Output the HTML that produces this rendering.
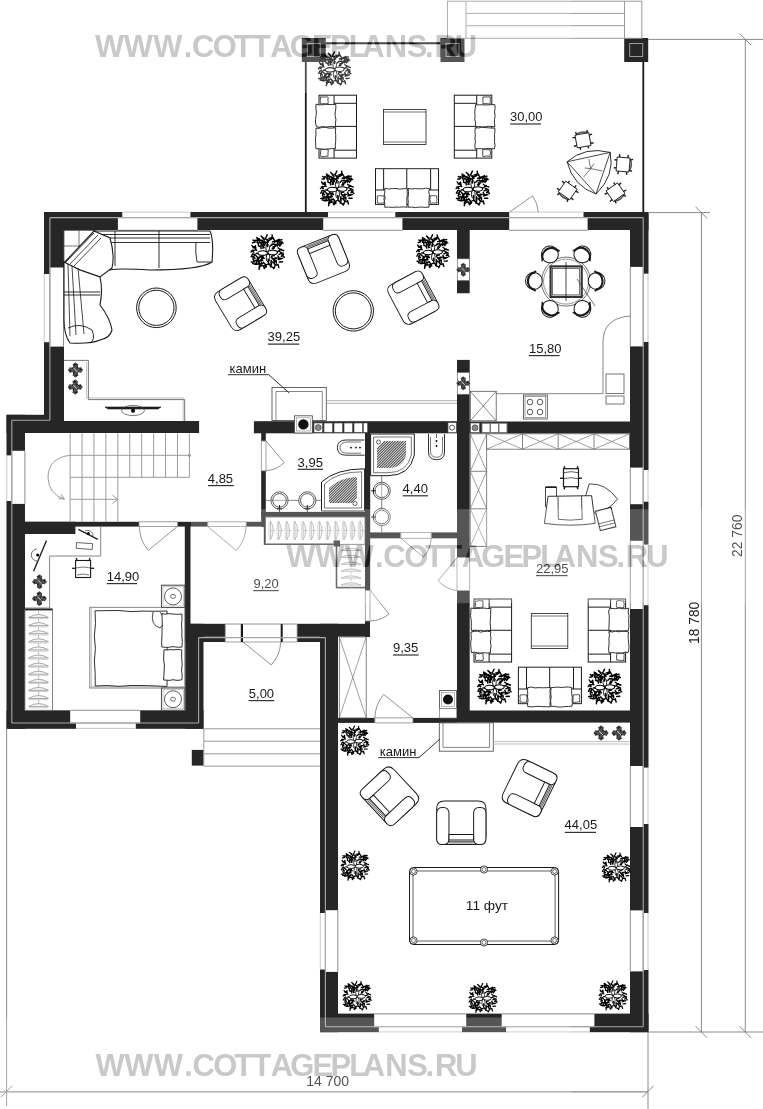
<!DOCTYPE html>
<html><head><meta charset="utf-8"><style>
html,body{margin:0;padding:0;background:#fff;}
svg{display:block;font-family:"Liberation Sans",sans-serif;}
</style></head><body>
<svg width="763" height="1109" viewBox="0 0 763 1109">
<defs><symbol id="plant" viewBox="-19 -19 38 38" overflow="visible"><path d="M-9.4,-15.6 Q-11.1,-16.3 -12.2,-17.2 M-4.6,-16.5 Q-6.4,-17.7 -7.4,-19.0 M-2.2,-16.9 Q-1.0,-18.9 -0.5,-20.5 M1.5,-16.1 Q3.6,-16.4 4.8,-17.5 M5.5,-16.8 Q5.1,-18.8 5.0,-20.3 M-13.8,-13.6 Q-15.4,-13.6 -16.4,-14.4 M-11.0,-13.6 Q-12.5,-13.7 -14.1,-14.3 M-8.6,-13.6 Q-10.7,-14.8 -12.0,-15.7 M-5.4,-13.4 Q-7.0,-14.3 -8.2,-14.5 M-3.6,-14.5 Q-4.0,-15.4 -5.5,-16.3 M-0.6,-14.3 Q-2.1,-15.1 -2.8,-16.6 M1.5,-14.0 Q3.3,-14.7 4.9,-15.9 M7.7,-14.3 Q6.6,-16.0 5.7,-17.7 M10.1,-14.0 Q12.0,-14.2 13.0,-15.3 M12.5,-14.0 Q14.7,-14.5 16.1,-14.8 M-14.2,-12.1 Q-15.2,-11.6 -17.1,-11.4 M-11.8,-12.4 Q-11.2,-13.9 -11.3,-15.7 M-8.9,-12.0 Q-10.1,-11.5 -12.0,-11.7 M-6.5,-11.1 Q-7.6,-11.0 -9.3,-11.7 M-4.3,-11.5 Q-5.7,-12.5 -7.2,-13.8 M-1.8,-11.6 Q-3.3,-12.3 -4.2,-12.8 M1.1,-12.2 Q0.2,-14.1 -0.1,-15.2 M5.5,-12.4 Q6.9,-12.5 8.8,-13.4 M7.8,-11.9 Q9.3,-13.2 11.2,-13.6 M11.2,-12.3 Q13.5,-12.4 15.2,-12.3 M14.0,-11.6 Q16.2,-10.8 17.4,-11.0 M-10.4,-9.0 Q-10.4,-10.6 -11.2,-11.9 M-7.4,-9.0 Q-6.8,-10.6 -6.1,-12.0 M-4.8,-9.6 Q-4.8,-11.5 -4.7,-13.0 M5.1,-9.9 Q6.7,-9.9 8.1,-9.8 M7.4,-9.4 Q9.0,-9.5 10.4,-9.2 M9.5,-9.5 Q10.7,-9.5 12.9,-8.9 M12.3,-9.0 Q13.1,-10.5 14.0,-12.2 M15.2,-9.4 Q16.0,-11.2 16.1,-12.4 M-14.2,-7.4 Q-15.4,-6.6 -16.5,-5.9 M-7.2,-6.9 Q-8.4,-6.9 -10.6,-8.0 M-4.0,-8.0 Q-2.9,-10.1 -2.3,-11.5 M3.3,-7.8 Q4.1,-9.2 5.8,-9.7 M6.1,-7.0 Q7.7,-7.2 9.1,-7.3 M11.3,-7.8 Q11.3,-9.7 11.0,-11.2 M13.7,-7.7 Q14.3,-8.7 15.2,-10.2 M-15.5,-5.7 Q-16.9,-6.6 -17.7,-8.3 M-13.2,-5.4 Q-13.9,-6.2 -13.8,-8.0 M-7.4,-4.9 Q-7.9,-6.6 -7.8,-8.0 M-5.4,-5.3 Q-4.7,-7.1 -4.6,-8.7 M6.6,-4.6 Q7.8,-5.9 8.2,-7.4 M11.8,-5.6 Q12.7,-5.0 14.1,-4.0 M-16.4,-3.1 Q-17.2,-2.4 -18.9,-0.9 M-14.2,-3.2 Q-16.1,-3.0 -16.9,-2.2 M-12.5,-3.0 Q-13.7,-4.1 -14.5,-5.6 M13.0,-2.3 Q13.7,-3.3 15.3,-4.1 M15.5,-3.2 Q17.3,-3.2 18.1,-2.5 M-15.7,-0.8 Q-16.7,-1.3 -17.8,-2.6 M14.3,-0.8 Q15.5,-0.3 17.6,0.7 M-17.1,1.3 Q-17.6,3.0 -18.6,4.5 M-14.5,2.0 Q-15.6,3.9 -16.2,5.2 M12.9,1.7 Q14.1,1.3 16.0,0.4 M16.1,2.2 Q17.4,3.5 18.8,4.9 M-15.8,4.1 Q-16.5,6.1 -16.5,7.5 M-13.3,3.1 Q-14.3,2.1 -16.0,1.3 M-8.5,3.9 Q-9.5,5.7 -10.1,6.5 M-5.0,4.3 Q-6.9,4.1 -8.8,4.9 M4.4,4.0 Q5.5,3.6 7.5,3.2 M11.7,3.5 Q12.7,5.3 12.8,6.5 M15.5,4.0 Q16.7,3.2 17.8,1.9 M-14.3,6.3 Q-15.3,5.0 -16.7,4.5 M-11.5,6.2 Q-11.6,8.2 -12.1,9.9 M-9.8,6.0 Q-11.3,4.6 -12.6,4.2 M-7.0,5.5 Q-6.8,6.8 -6.4,8.9 M-4.0,6.1 Q-5.6,5.7 -6.9,5.9 M6.0,6.4 Q7.7,7.0 9.2,6.7 M8.2,5.7 Q9.2,5.8 10.9,5.8 M13.7,6.2 Q15.7,6.6 17.0,6.0 M-12.9,8.7 Q-14.7,8.4 -15.7,8.7 M-10.5,7.7 Q-10.1,9.9 -10.2,11.4 M-7.4,8.4 Q-9.0,8.7 -10.0,9.3 M-5.6,8.5 Q-7.3,8.5 -8.8,9.4 M4.1,8.6 Q3.8,10.4 3.8,11.8 M7.8,8.0 Q7.6,9.7 7.3,11.7 M9.5,8.7 Q9.9,9.7 9.8,11.6 M12.0,7.6 Q14.0,6.8 15.0,6.9 M-14.5,10.3 Q-16.5,10.3 -18.5,10.4 M-12.5,10.1 Q-12.7,11.7 -12.7,12.8 M-9.4,10.6 Q-9.7,12.1 -9.0,13.2 M-6.9,10.9 Q-6.4,13.3 -6.4,14.9 M-4.7,10.8 Q-3.9,11.7 -2.8,13.0 M5.4,10.3 Q6.8,11.4 7.6,11.6 M13.2,10.3 Q14.7,10.3 16.8,10.2 M-13.0,12.5 Q-15.2,12.4 -16.9,12.2 M-11.0,12.7 Q-13.2,13.1 -14.5,13.0 M-8.2,12.6 Q-8.8,14.2 -8.5,15.9 M-5.7,12.0 Q-7.8,12.4 -9.5,12.9 M-2.7,13.3 Q-1.6,14.1 -1.4,15.8 M-0.5,13.0 Q-1.8,14.0 -3.2,14.3 M1.6,12.4 Q2.2,13.2 3.7,14.9 M4.5,12.1 Q4.2,13.7 3.4,15.7 M7.7,12.8 Q9.4,13.4 10.4,14.0 M11.7,13.0 Q12.2,15.2 12.7,16.6 M-9.4,15.1 Q-9.2,16.4 -9.7,18.6 M-6.4,14.5 Q-7.7,14.8 -9.7,15.1 M-4.7,14.5 Q-4.5,15.4 -4.0,17.1 M-1.8,15.0 Q-2.6,16.3 -3.8,17.6 M3.1,14.9 Q4.5,16.0 6.1,16.7 M8.2,14.7 Q8.0,15.9 6.9,17.9 M-4.1,-5.7 L-7.6,-10.6 M-0.3,-7.0 L-0.5,-13.0 M5.2,-4.7 L9.6,-8.7 M4.5,5.3 L8.4,9.9 M0.6,7.0 L1.1,13.0 M-4.8,5.1 L-8.9,9.5 M-7.0,0.4 L-13.0,0.8 M6.9,-1.0 L12.9,-1.8" fill="none" stroke="#000" stroke-width="1.65" stroke-linecap="round"/><ellipse cx="-5.6" cy="0.3" rx="5.4" ry="2.6" fill="#fff" stroke="#000" stroke-width="1.2"/><ellipse cx="5.6" cy="-0.3" rx="5.4" ry="2.6" fill="#fff" stroke="#000" stroke-width="1.2"/><ellipse cx="0" cy="-5.5" rx="2.1" ry="4.3" fill="none" stroke="#000" stroke-width="1.0"/><ellipse cx="0.5" cy="5.8" rx="2.1" ry="4.5" fill="none" stroke="#000" stroke-width="1.0"/></symbol><symbol id="splant" viewBox="-6 -6 12 12" overflow="visible"><path d="M1.4,0.6 L5.2,2.1 M0.6,1.4 L2.1,5.2 M-0.6,1.4 L-2.1,5.2 M-1.4,0.6 L-5.2,2.1 M-1.4,-0.6 L-5.2,-2.1 M-0.6,-1.4 L-2.1,-5.2 M0.6,-1.4 L2.1,-5.2 M1.4,-0.6 L5.2,-2.1" stroke="#555" stroke-width="1.1"/><ellipse cx="3.3" cy="0.0" rx="2.9" ry="1.6" fill="#555" stroke="#2a2a2a" stroke-width="0.5"/><ellipse cx="0.0" cy="3.3" rx="1.6" ry="2.9" fill="#555" stroke="#2a2a2a" stroke-width="0.5"/><ellipse cx="-3.3" cy="0.0" rx="2.9" ry="1.6" fill="#555" stroke="#2a2a2a" stroke-width="0.5"/><ellipse cx="-0.0" cy="-3.3" rx="1.6" ry="2.9" fill="#555" stroke="#2a2a2a" stroke-width="0.5"/><circle cx="-2.2" cy="-1.8" r="0.75" fill="#111"/><circle cx="2" cy="1.6" r="0.75" fill="#111"/><circle cx="-1.5" cy="2.4" r="0.75" fill="#111"/><circle cx="1.8" cy="-2.3" r="0.75" fill="#111"/><circle cx="-4.5" cy="0.5" r="0.75" fill="#111"/><circle cx="4.2" cy="-0.8" r="0.75" fill="#111"/><circle cx="0.6" cy="4.6" r="0.75" fill="#111"/><circle cx="-0.4" cy="-4.6" r="0.75" fill="#111"/><path d="M-2,-2 L2,2" stroke="#ddd" stroke-width="0.8"/></symbol><mask id="wm0" maskUnits="userSpaceOnUse" x="0" y="0" width="763" height="1109"><rect x="0" y="0" width="763" height="1109" fill="#fff"/><text fill="#000" x="94.97 123.87 153.37 183.70 191.93 212.83 233.86 251.96 270.23 289.73 312.03 330.03 348.73 362.33 384.63 406.70 425.00 434.43 454.75" y="57.00" font-size="30.9" font-weight="bold">WWW.COTTAGEPLANS.RU</text></mask><mask id="wm1" maskUnits="userSpaceOnUse" x="0" y="0" width="763" height="1109"><rect x="0" y="0" width="763" height="1109" fill="#fff"/><text fill="#000" x="286.37 315.27 344.77 375.10 383.33 404.23 425.26 443.36 461.63 481.13 503.43 521.43 540.13 553.73 576.03 598.10 616.40 625.83 646.15" y="567.20" font-size="30.9" font-weight="bold">WWW.COTTAGEPLANS.RU</text></mask><mask id="wm2" maskUnits="userSpaceOnUse" x="0" y="0" width="763" height="1109"><rect x="0" y="0" width="763" height="1109" fill="#fff"/><text fill="#000" x="95.47 124.37 153.87 184.20 192.43 213.33 234.36 252.46 270.73 290.23 312.53 330.53 349.23 362.83 385.13 407.20 425.50 434.93 455.25" y="1075.50" font-size="30.9" font-weight="bold">WWW.COTTAGEPLANS.RU</text></mask></defs>
<rect x="0" y="0" width="763" height="1109" fill="#fff"/>
<rect x="44.00" y="212.00" width="604.50" height="18.00" fill="#262626" />
<rect x="44.00" y="212.00" width="20.00" height="221.00" fill="#262626" />
<rect x="6.50" y="414.80" width="57.50" height="18.20" fill="#262626" />
<rect x="44.00" y="421.00" width="155.30" height="12.00" fill="#262626" />
<rect x="6.50" y="414.80" width="18.50" height="314.00" fill="#262626" />
<rect x="6.50" y="710.30" width="197.00" height="18.50" fill="#262626" />
<rect x="184.80" y="522.00" width="5.70" height="102.00" fill="#262626" />
<rect x="185.20" y="623.80" width="18.30" height="105.00" fill="#262626" />
<rect x="185.20" y="623.80" width="184.50" height="12.90" fill="#262626" />
<rect x="185.20" y="636.70" width="140.80" height="5.30" fill="#262626" />
<rect x="365.00" y="621.00" width="5.00" height="16.00" fill="#262626" />
<rect x="320.00" y="623.80" width="18.00" height="408.40" fill="#262626" />
<rect x="320.00" y="1013.60" width="328.50" height="18.60" fill="#262626" />
<rect x="630.00" y="212.00" width="18.50" height="820.20" fill="#262626" />
<rect x="253.70" y="421.20" width="216.00" height="12.10" fill="#262626" />
<rect x="457.00" y="230.00" width="12.70" height="63.50" fill="#262626" />
<rect x="457.00" y="359.70" width="12.70" height="358.50" fill="#262626" />
<rect x="469.70" y="421.50" width="160.30" height="12.00" fill="#262626" />
<rect x="457.00" y="710.50" width="173.00" height="12.10" fill="#262626" />
<rect x="338.00" y="717.90" width="119.00" height="5.00" fill="#262626" />
<rect x="261.20" y="433.00" width="4.60" height="94.00" fill="#262626" />
<rect x="263.80" y="527.00" width="1.80" height="18.00" fill="#262626" />
<rect x="365.00" y="433.00" width="5.20" height="157.40" fill="#262626" />
<rect x="261.20" y="511.90" width="108.80" height="5.00" fill="#262626" />
<rect x="370.00" y="532.40" width="87.00" height="5.90" fill="#262626" />
<rect x="25.00" y="521.80" width="241.00" height="4.80" fill="#262626" />
<rect x="25.00" y="521.80" width="50.40" height="12.20" fill="#262626" />
<rect x="301.80" y="38.00" width="24.00" height="24.00" fill="#262626" />
<rect x="307.30" y="43.50" width="13.00" height="13.00" fill="none" stroke="#9a9a9a" stroke-width="1" />
<rect x="440.50" y="38.00" width="24.00" height="24.00" fill="#262626" />
<rect x="446.00" y="43.50" width="13.00" height="13.00" fill="none" stroke="#9a9a9a" stroke-width="1" />
<rect x="624.20" y="38.00" width="24.00" height="24.00" fill="#262626" />
<rect x="629.70" y="43.50" width="13.00" height="13.00" fill="none" stroke="#9a9a9a" stroke-width="1" />
<rect x="191.80" y="749.90" width="11.80" height="15.70" fill="#262626" />
<rect x="122.30" y="211.50" width="68.10" height="6.10" fill="#ffffff" />
<rect x="117.90" y="217.60" width="79.50" height="12.60" fill="#ffffff" />
<line x1="122.30" y1="212.10" x2="190.40" y2="212.10" stroke="#c8c8c8" stroke-width="1" />
<line x1="117.90" y1="217.60" x2="197.40" y2="217.60" stroke="#8c8c8c" stroke-width="1" />
<line x1="117.90" y1="230.30" x2="197.40" y2="230.30" stroke="#8c8c8c" stroke-width="1" />
<rect x="328.00" y="211.50" width="67.30" height="6.10" fill="#ffffff" />
<rect x="323.20" y="217.60" width="79.20" height="12.60" fill="#ffffff" />
<line x1="328.00" y1="212.10" x2="395.30" y2="212.10" stroke="#c8c8c8" stroke-width="1" />
<line x1="323.20" y1="217.60" x2="402.40" y2="217.60" stroke="#8c8c8c" stroke-width="1" />
<line x1="323.20" y1="230.30" x2="402.40" y2="230.30" stroke="#8c8c8c" stroke-width="1" />
<rect x="509.20" y="211.50" width="74.30" height="6.10" fill="#ffffff" />
<rect x="509.20" y="217.60" width="78.40" height="12.60" fill="#ffffff" />
<line x1="509.20" y1="212.10" x2="583.50" y2="212.10" stroke="#c8c8c8" stroke-width="1" />
<line x1="509.20" y1="217.60" x2="587.60" y2="217.60" stroke="#8c8c8c" stroke-width="1" />
<line x1="509.20" y1="230.30" x2="587.60" y2="230.30" stroke="#8c8c8c" stroke-width="1" />
<rect x="43.50" y="274.00" width="6.40" height="68.20" fill="#ffffff" />
<rect x="49.90" y="267.50" width="13.90" height="79.10" fill="#ffffff" />
<line x1="44.30" y1="274.00" x2="44.30" y2="342.20" stroke="#c8c8c8" stroke-width="1" />
<line x1="49.90" y1="267.50" x2="49.90" y2="346.60" stroke="#8c8c8c" stroke-width="1" />
<line x1="63.50" y1="267.50" x2="63.50" y2="346.60" stroke="#8c8c8c" stroke-width="1" />
<rect x="6.00" y="455.40" width="5.80" height="45.60" fill="#ffffff" />
<rect x="11.80" y="450.80" width="13.40" height="53.10" fill="#ffffff" />
<line x1="6.80" y1="455.40" x2="6.80" y2="501.00" stroke="#c8c8c8" stroke-width="1" />
<line x1="11.80" y1="450.80" x2="11.80" y2="503.90" stroke="#8c8c8c" stroke-width="1" />
<line x1="24.90" y1="450.80" x2="24.90" y2="503.90" stroke="#8c8c8c" stroke-width="1" />
<rect x="70.20" y="710.00" width="70.00" height="13.00" fill="#ffffff" />
<rect x="76.00" y="723.00" width="59.80" height="6.30" fill="#ffffff" />
<line x1="70.20" y1="710.30" x2="140.20" y2="710.30" stroke="#8c8c8c" stroke-width="1" />
<line x1="70.20" y1="723.00" x2="140.20" y2="723.00" stroke="#8c8c8c" stroke-width="1" />
<line x1="76.00" y1="728.40" x2="135.80" y2="728.40" stroke="#c8c8c8" stroke-width="1" />
<rect x="629.80" y="266.90" width="13.40" height="79.50" fill="#ffffff" />
<rect x="643.20" y="273.70" width="5.80" height="68.20" fill="#ffffff" />
<line x1="630.30" y1="266.90" x2="630.30" y2="346.40" stroke="#8c8c8c" stroke-width="1" />
<line x1="643.20" y1="266.90" x2="643.20" y2="346.40" stroke="#8c8c8c" stroke-width="1" />
<line x1="648.00" y1="273.70" x2="648.00" y2="341.90" stroke="#c8c8c8" stroke-width="1" />
<rect x="629.80" y="467.60" width="13.40" height="36.60" fill="#ffffff" />
<rect x="643.20" y="470.00" width="5.80" height="31.70" fill="#ffffff" />
<line x1="630.30" y1="467.60" x2="630.30" y2="504.20" stroke="#8c8c8c" stroke-width="1" />
<line x1="643.20" y1="467.60" x2="643.20" y2="504.20" stroke="#8c8c8c" stroke-width="1" />
<line x1="648.00" y1="470.00" x2="648.00" y2="501.70" stroke="#c8c8c8" stroke-width="1" />
<rect x="629.80" y="540.80" width="13.40" height="68.20" fill="#ffffff" />
<rect x="643.20" y="544.60" width="5.80" height="60.60" fill="#ffffff" />
<line x1="630.30" y1="540.80" x2="630.30" y2="609.00" stroke="#8c8c8c" stroke-width="1" />
<line x1="643.20" y1="540.80" x2="643.20" y2="609.00" stroke="#8c8c8c" stroke-width="1" />
<line x1="648.00" y1="544.60" x2="648.00" y2="605.20" stroke="#c8c8c8" stroke-width="1" />
<rect x="629.80" y="766.00" width="13.40" height="61.00" fill="#ffffff" />
<rect x="643.20" y="767.60" width="5.80" height="56.40" fill="#ffffff" />
<line x1="630.30" y1="766.00" x2="630.30" y2="827.00" stroke="#8c8c8c" stroke-width="1" />
<line x1="643.20" y1="766.00" x2="643.20" y2="827.00" stroke="#8c8c8c" stroke-width="1" />
<line x1="648.00" y1="767.60" x2="648.00" y2="824.00" stroke="#c8c8c8" stroke-width="1" />
<rect x="629.80" y="910.40" width="13.40" height="61.00" fill="#ffffff" />
<rect x="643.20" y="913.00" width="5.80" height="57.00" fill="#ffffff" />
<line x1="630.30" y1="910.40" x2="630.30" y2="971.40" stroke="#8c8c8c" stroke-width="1" />
<line x1="643.20" y1="910.40" x2="643.20" y2="971.40" stroke="#8c8c8c" stroke-width="1" />
<line x1="648.00" y1="913.00" x2="648.00" y2="970.00" stroke="#c8c8c8" stroke-width="1" />
<rect x="325.40" y="910.20" width="12.90" height="61.70" fill="#ffffff" />
<rect x="319.60" y="913.00" width="5.80" height="56.50" fill="#ffffff" />
<line x1="337.80" y1="910.20" x2="337.80" y2="971.90" stroke="#8c8c8c" stroke-width="1" />
<line x1="325.40" y1="910.20" x2="325.40" y2="971.90" stroke="#8c8c8c" stroke-width="1" />
<line x1="320.30" y1="913.00" x2="320.30" y2="969.50" stroke="#c8c8c8" stroke-width="1" />
<rect x="374.20" y="1013.30" width="92.00" height="13.40" fill="#ffffff" />
<rect x="378.80" y="1026.70" width="83.20" height="6.00" fill="#ffffff" />
<line x1="374.20" y1="1013.90" x2="466.20" y2="1013.90" stroke="#8c8c8c" stroke-width="1" />
<line x1="374.20" y1="1026.70" x2="466.20" y2="1026.70" stroke="#8c8c8c" stroke-width="1" />
<line x1="378.80" y1="1031.80" x2="462.00" y2="1031.80" stroke="#c8c8c8" stroke-width="1" />
<rect x="501.70" y="1013.30" width="92.70" height="13.40" fill="#ffffff" />
<rect x="506.10" y="1026.70" width="83.70" height="6.00" fill="#ffffff" />
<line x1="501.70" y1="1013.90" x2="594.40" y2="1013.90" stroke="#8c8c8c" stroke-width="1" />
<line x1="501.70" y1="1026.70" x2="594.40" y2="1026.70" stroke="#8c8c8c" stroke-width="1" />
<line x1="506.10" y1="1031.80" x2="589.80" y2="1031.80" stroke="#c8c8c8" stroke-width="1" />
<rect x="199.30" y="420.80" width="54.40" height="12.80" fill="#ffffff" />
<rect x="456.60" y="293.50" width="13.50" height="66.20" fill="#ffffff" />
<rect x="260.80" y="441.00" width="5.40" height="29.80" fill="#ffffff" />
<rect x="261.30" y="441.00" width="4.70" height="29.80" fill="#fff" stroke="#8c8c8c" stroke-width="0.8" />
<rect x="400.80" y="532.00" width="30.40" height="6.70" fill="#ffffff" />
<rect x="400.80" y="532.40" width="30.40" height="5.90" fill="#fff" stroke="#8c8c8c" stroke-width="0.8" />
<rect x="456.60" y="557.50" width="13.50" height="33.00" fill="#ffffff" />
<rect x="457.00" y="557.50" width="12.70" height="33.00" fill="#fff" stroke="#8c8c8c" stroke-width="0.8" />
<rect x="139.00" y="521.40" width="38.40" height="5.60" fill="#ffffff" />
<rect x="139.00" y="521.80" width="38.40" height="4.80" fill="#fff" stroke="#8c8c8c" stroke-width="0.8" />
<rect x="207.80" y="521.40" width="38.30" height="5.60" fill="#ffffff" />
<rect x="207.80" y="521.80" width="38.30" height="4.80" fill="#fff" stroke="#8c8c8c" stroke-width="0.8" />
<rect x="365.00" y="590.40" width="5.40" height="30.60" fill="#ffffff" />
<rect x="365.30" y="590.40" width="4.70" height="30.60" fill="#fff" stroke="#8c8c8c" stroke-width="0.8" />
<rect x="374.90" y="717.50" width="38.00" height="5.80" fill="#ffffff" />
<rect x="374.90" y="717.90" width="38.00" height="5.00" fill="#fff" stroke="#8c8c8c" stroke-width="0.8" />
<rect x="225.20" y="623.50" width="71.90" height="18.90" fill="#ffffff" />
<rect x="225.20" y="624.10" width="71.90" height="17.90" fill="none" stroke="#8c8c8c" stroke-width="0.8" />
<rect x="240.80" y="624.10" width="2.20" height="17.90" fill="#1a1a1a" />
<rect x="280.70" y="624.10" width="2.00" height="17.90" fill="#1a1a1a" />
<line x1="49.90" y1="217.60" x2="643.20" y2="217.60" stroke="#a8a8a8" stroke-width="1.1" />
<line x1="49.90" y1="217.60" x2="49.90" y2="420.30" stroke="#a8a8a8" stroke-width="1.1" />
<line x1="11.80" y1="420.30" x2="49.90" y2="420.30" stroke="#a8a8a8" stroke-width="1.1" />
<line x1="11.80" y1="420.30" x2="11.80" y2="723.00" stroke="#a8a8a8" stroke-width="1.1" />
<line x1="11.80" y1="723.00" x2="198.60" y2="723.00" stroke="#a8a8a8" stroke-width="1.1" />
<line x1="198.60" y1="637.60" x2="198.60" y2="723.00" stroke="#a8a8a8" stroke-width="1.1" />
<line x1="198.60" y1="637.60" x2="325.40" y2="637.60" stroke="#a8a8a8" stroke-width="1.1" />
<line x1="325.40" y1="637.60" x2="325.40" y2="1026.70" stroke="#a8a8a8" stroke-width="1.1" />
<line x1="325.40" y1="1026.70" x2="643.20" y2="1026.70" stroke="#a8a8a8" stroke-width="1.1" />
<line x1="643.20" y1="217.60" x2="643.20" y2="1026.70" stroke="#a8a8a8" stroke-width="1.1" />
<line x1="648.00" y1="39.40" x2="763.00" y2="39.40" stroke="#8a8a8a" stroke-width="1" />
<line x1="745.30" y1="39.40" x2="745.30" y2="1032.00" stroke="#8a8a8a" stroke-width="1" />
<line x1="739.50" y1="33.60" x2="751.10" y2="45.20" stroke="#8a8a8a" stroke-width="1" />
<line x1="739.50" y1="1026.20" x2="751.10" y2="1037.80" stroke="#8a8a8a" stroke-width="1" />
<line x1="648.00" y1="212.60" x2="710.00" y2="212.60" stroke="#8a8a8a" stroke-width="1" />
<line x1="701.40" y1="212.60" x2="701.40" y2="1032.00" stroke="#8a8a8a" stroke-width="1" />
<line x1="695.60" y1="206.80" x2="707.20" y2="218.40" stroke="#8a8a8a" stroke-width="1" />
<line x1="695.60" y1="1026.20" x2="707.20" y2="1037.80" stroke="#8a8a8a" stroke-width="1" />
<line x1="648.00" y1="1032.00" x2="763.00" y2="1032.00" stroke="#8a8a8a" stroke-width="1" />
<line x1="648.00" y1="1032.00" x2="648.00" y2="1109.00" stroke="#8a8a8a" stroke-width="1" />
<line x1="6.60" y1="728.80" x2="6.60" y2="1106.00" stroke="#8a8a8a" stroke-width="1" />
<line x1="0.00" y1="1091.80" x2="648.00" y2="1091.80" stroke="#8a8a8a" stroke-width="1.2" />
<line x1="0.80" y1="1097.30" x2="12.40" y2="1085.70" stroke="#8a8a8a" stroke-width="1" />
<line x1="642.20" y1="1097.30" x2="653.80" y2="1085.70" stroke="#8a8a8a" stroke-width="1" />
<text x="327.60" y="1086.10" font-size="14" text-anchor="middle" fill="#222" >14 700</text>
<text x="0" y="0" font-size="13.8" fill="#222" text-anchor="middle" transform="translate(742.2,535.8) rotate(-90)">22 760</text>
<text x="0" y="0" font-size="13.8" fill="#222" text-anchor="middle" transform="translate(699.1,622.85) rotate(-90)">18 780</text>
<rect x="447.50" y="1.20" width="194.30" height="37.10" fill="none" stroke="#9a9a9a" stroke-width="1" />
<line x1="466.00" y1="1.20" x2="466.00" y2="38.30" stroke="#9a9a9a" stroke-width="1" />
<line x1="624.50" y1="1.20" x2="624.50" y2="38.30" stroke="#9a9a9a" stroke-width="1" />
<line x1="466.00" y1="13.40" x2="624.50" y2="13.40" stroke="#9a9a9a" stroke-width="1" />
<line x1="466.00" y1="25.70" x2="624.50" y2="25.70" stroke="#9a9a9a" stroke-width="1" />
<line x1="325.80" y1="43.30" x2="440.50" y2="43.30" stroke="#1a1a1a" stroke-width="2" />
<line x1="464.50" y1="43.30" x2="624.20" y2="43.30" stroke="#1a1a1a" stroke-width="0" />
<line x1="305.80" y1="62.00" x2="305.80" y2="212.00" stroke="#1a1a1a" stroke-width="1.8" />
<line x1="643.30" y1="62.00" x2="643.30" y2="212.00" stroke="#1a1a1a" stroke-width="1.8" />
<g transform="translate(319.01,95.20) scale(1.005,1.000)">
<rect x="0.00" y="0.00" width="37.30" height="62.90" fill="#fff" stroke="#1a1a1a" stroke-width="1" />
<line x1="15.00" y1="0.00" x2="15.00" y2="62.90" stroke="#1a1a1a" stroke-width="1" />
<line x1="15.00" y1="8.10" x2="37.30" y2="8.10" stroke="#1a1a1a" stroke-width="1" />
<line x1="15.00" y1="55.00" x2="37.30" y2="55.00" stroke="#1a1a1a" stroke-width="1" />
<line x1="15.00" y1="31.20" x2="37.30" y2="31.20" stroke="#1a1a1a" stroke-width="1" />
<path d="M-3.00,8.93 L0.25,9.65 L3.50,9.56 L6.75,9.06 L10.00,9.30 L13.25,9.25 L16.65,9.30 L16.79,13.02 L16.09,16.73 L16.03,20.45 L16.84,24.17 L16.43,27.88 L16.50,31.86 L13.25,31.10 L10.00,31.55 L6.75,31.82 L3.50,31.33 L0.25,32.05 L-2.60,31.60 L-3.47,27.88 L-3.47,24.17 L-2.96,20.45 L-2.56,16.73 L-3.12,13.02Z" fill="#fff" stroke="#1a1a1a" stroke-width="0.9" />
<path d="M-3.00,33.06 L0.25,33.05 L3.50,32.16 L6.75,32.18 L10.00,32.94 L13.25,32.84 L16.67,32.60 L16.31,36.08 L16.61,39.57 L16.61,43.05 L16.58,46.53 L16.16,50.02 L16.50,53.43 L13.25,53.39 L10.00,53.72 L6.75,53.99 L3.50,53.95 L0.25,53.54 L-3.06,53.50 L-3.23,50.02 L-3.46,46.53 L-3.47,43.05 L-3.04,39.57 L-3.18,36.08Z" fill="#fff" stroke="#1a1a1a" stroke-width="0.9" />
<path d="M1.50,1.64 L2.75,1.83 L4.00,1.72 L5.25,1.86 L6.50,1.88 L7.75,1.54 L8.71,1.80 L9.20,2.92 L8.86,4.03 L8.84,5.15 L9.30,6.27 L8.98,7.38 L9.00,8.70 L7.75,8.49 L6.50,8.58 L5.25,8.29 L4.00,8.58 L2.75,8.72 L1.51,8.50 L1.64,7.38 L1.60,6.27 L1.24,5.15 L1.65,4.03 L1.55,2.92Z" fill="#fff" stroke="#1a1a1a" stroke-width="0.8" />
<path d="M1.50,54.34 L2.75,54.26 L4.00,54.44 L5.25,54.29 L6.50,54.24 L7.75,54.44 L9.25,54.50 L9.18,55.62 L9.16,56.73 L8.83,57.85 L9.02,58.97 L8.87,60.08 L9.00,61.00 L7.75,60.96 L6.50,61.03 L5.25,61.46 L4.00,61.40 L2.75,61.38 L1.68,61.20 L1.32,60.08 L1.39,58.97 L1.58,57.85 L1.64,56.73 L1.71,55.62Z" fill="#fff" stroke="#1a1a1a" stroke-width="0.8" />
</g>
<g transform="translate(491.79,95.20) scale(-1.005,1.000)">
<rect x="0.00" y="0.00" width="37.30" height="62.90" fill="#fff" stroke="#1a1a1a" stroke-width="1" />
<line x1="15.00" y1="0.00" x2="15.00" y2="62.90" stroke="#1a1a1a" stroke-width="1" />
<line x1="15.00" y1="8.10" x2="37.30" y2="8.10" stroke="#1a1a1a" stroke-width="1" />
<line x1="15.00" y1="55.00" x2="37.30" y2="55.00" stroke="#1a1a1a" stroke-width="1" />
<line x1="15.00" y1="31.20" x2="37.30" y2="31.20" stroke="#1a1a1a" stroke-width="1" />
<path d="M-3.00,9.42 L0.25,9.54 L3.50,9.60 L6.75,9.74 L10.00,9.54 L13.25,9.72 L16.03,9.30 L16.47,13.02 L16.94,16.73 L16.65,20.45 L16.90,24.17 L16.11,27.88 L16.50,31.57 L13.25,31.35 L10.00,31.64 L6.75,31.67 L3.50,31.11 L0.25,31.32 L-3.22,31.60 L-2.58,27.88 L-2.73,24.17 L-3.34,20.45 L-2.70,16.73 L-3.36,13.02Z" fill="#fff" stroke="#1a1a1a" stroke-width="0.9" />
<path d="M-3.00,32.89 L0.25,32.92 L3.50,32.59 L6.75,32.36 L10.00,32.10 L13.25,32.76 L16.47,32.60 L16.76,36.08 L16.37,39.57 L16.77,43.05 L16.27,46.53 L16.80,50.02 L16.50,53.73 L13.25,53.41 L10.00,53.54 L6.75,53.68 L3.50,53.19 L0.25,53.55 L-2.69,53.50 L-3.23,50.02 L-2.70,46.53 L-2.81,43.05 L-2.66,39.57 L-3.16,36.08Z" fill="#fff" stroke="#1a1a1a" stroke-width="0.9" />
<path d="M1.50,1.69 L2.75,1.59 L4.00,1.89 L5.25,1.54 L6.50,1.82 L7.75,1.72 L8.73,1.80 L9.00,2.92 L8.72,4.03 L8.96,5.15 L8.74,6.27 L8.75,7.38 L9.00,8.45 L7.75,8.70 L6.50,8.27 L5.25,8.33 L4.00,8.58 L2.75,8.77 L1.55,8.50 L1.44,7.38 L1.79,6.27 L1.23,5.15 L1.72,4.03 L1.37,2.92Z" fill="#fff" stroke="#1a1a1a" stroke-width="0.8" />
<path d="M1.50,54.34 L2.75,54.78 L4.00,54.28 L5.25,54.62 L6.50,54.25 L7.75,54.35 L9.30,54.50 L8.83,55.62 L9.09,56.73 L8.98,57.85 L8.97,58.97 L9.00,60.08 L9.00,61.02 L7.75,61.40 L6.50,60.95 L5.25,61.04 L4.00,60.91 L2.75,61.06 L1.44,61.20 L1.74,60.08 L1.43,58.97 L1.27,57.85 L1.36,56.73 L1.79,55.62Z" fill="#fff" stroke="#1a1a1a" stroke-width="0.8" />
</g>
<g transform="translate(375.50,204.43) rotate(-90) scale(0.958,1.002)">
<rect x="0.00" y="0.00" width="37.30" height="62.90" fill="#fff" stroke="#1a1a1a" stroke-width="1" />
<line x1="15.00" y1="0.00" x2="15.00" y2="62.90" stroke="#1a1a1a" stroke-width="1" />
<line x1="15.00" y1="8.10" x2="37.30" y2="8.10" stroke="#1a1a1a" stroke-width="1" />
<line x1="15.00" y1="55.00" x2="37.30" y2="55.00" stroke="#1a1a1a" stroke-width="1" />
<line x1="15.00" y1="31.20" x2="37.30" y2="31.20" stroke="#1a1a1a" stroke-width="1" />
<path d="M-3.00,9.26 L0.25,9.17 L3.50,8.94 L6.75,9.67 L10.00,8.81 L13.25,9.30 L16.90,9.30 L16.08,13.02 L16.55,16.73 L16.62,20.45 L16.04,24.17 L16.38,27.88 L16.50,31.80 L13.25,31.55 L10.00,31.83 L6.75,31.26 L3.50,31.34 L0.25,31.21 L-2.99,31.60 L-2.58,27.88 L-2.91,24.17 L-2.73,20.45 L-3.12,16.73 L-2.75,13.02Z" fill="#fff" stroke="#1a1a1a" stroke-width="0.9" />
<path d="M-3.00,32.67 L0.25,32.53 L3.50,32.68 L6.75,32.31 L10.00,32.91 L13.25,32.92 L16.65,32.60 L16.16,36.08 L16.52,39.57 L16.33,43.05 L16.25,46.53 L16.95,50.02 L16.50,54.00 L13.25,53.04 L10.00,53.86 L6.75,53.60 L3.50,53.38 L0.25,53.28 L-2.83,53.50 L-3.04,50.02 L-2.81,46.53 L-2.84,43.05 L-3.37,39.57 L-2.73,36.08Z" fill="#fff" stroke="#1a1a1a" stroke-width="0.9" />
<path d="M1.50,1.77 L2.75,1.84 L4.00,2.05 L5.25,1.78 L6.50,1.80 L7.75,1.85 L8.81,1.80 L9.01,2.92 L9.08,4.03 L9.18,5.15 L8.76,6.27 L8.88,7.38 L9.00,8.25 L7.75,8.69 L6.50,8.62 L5.25,8.23 L4.00,8.79 L2.75,8.78 L1.59,8.50 L1.57,7.38 L1.29,6.27 L1.21,5.15 L1.52,4.03 L1.24,2.92Z" fill="#fff" stroke="#1a1a1a" stroke-width="0.8" />
<path d="M1.50,54.48 L2.75,54.59 L4.00,54.60 L5.25,54.29 L6.50,54.21 L7.75,54.42 L8.86,54.50 L9.19,55.62 L9.11,56.73 L9.06,57.85 L9.03,58.97 L9.10,60.08 L9.00,60.99 L7.75,61.16 L6.50,61.00 L5.25,61.44 L4.00,60.94 L2.75,61.39 L1.24,61.20 L1.61,60.08 L1.40,58.97 L1.44,57.85 L1.71,56.73 L1.21,55.62Z" fill="#fff" stroke="#1a1a1a" stroke-width="0.8" />
</g>
<rect x="383.50" y="109.50" width="42.50" height="35.00" fill="#fff" stroke="#1a1a1a" stroke-width="0.8" />
<line x1="383.50" y1="112.00" x2="426.00" y2="112.00" stroke="#1a1a1a" stroke-width="0.6" />
<line x1="383.50" y1="142.00" x2="426.00" y2="142.00" stroke="#1a1a1a" stroke-width="0.6" />
<use href="#plant" x="317.56" y="53.28" width="34.28" height="32.62" preserveAspectRatio="none"/>
<use href="#plant" x="319.56" y="172.41" width="35.34" height="33.63" preserveAspectRatio="none"/>
<use href="#plant" x="455.16" y="172.41" width="35.34" height="33.63" preserveAspectRatio="none"/>
<g transform="translate(583,140.3) rotate(-10)">
<rect x="-7.00" y="-6.50" width="14.00" height="13.00" fill="#fff" stroke="#1a1a1a" stroke-width="0.9" />
<path d="M-6,-6.5 Q0,-10 6,-6.5" fill="none" stroke="#555" stroke-width="1.6" />
<line x1="-7.00" y1="-4.00" x2="-10.00" y2="-4.50" stroke="#1a1a1a" stroke-width="1.4" />
<line x1="7.00" y1="-4.00" x2="10.00" y2="-4.50" stroke="#1a1a1a" stroke-width="1.4" />
<line x1="-7.00" y1="4.00" x2="-10.00" y2="4.50" stroke="#1a1a1a" stroke-width="1.4" />
<line x1="7.00" y1="4.00" x2="10.00" y2="4.50" stroke="#1a1a1a" stroke-width="1.4" />
<line x1="-5.00" y1="-6.50" x2="-6.00" y2="-9.50" stroke="#1a1a1a" stroke-width="1.4" />
<line x1="5.00" y1="-6.50" x2="6.00" y2="-9.50" stroke="#1a1a1a" stroke-width="1.4" />
<line x1="-4.00" y1="6.50" x2="-4.00" y2="9.00" stroke="#1a1a1a" stroke-width="1.4" />
<line x1="4.00" y1="6.50" x2="4.00" y2="9.00" stroke="#1a1a1a" stroke-width="1.4" />
</g>
<g transform="translate(623.1,164.5) rotate(95)">
<rect x="-7.00" y="-6.50" width="14.00" height="13.00" fill="#fff" stroke="#1a1a1a" stroke-width="0.9" />
<path d="M-6,-6.5 Q0,-10 6,-6.5" fill="none" stroke="#555" stroke-width="1.6" />
<line x1="-7.00" y1="-4.00" x2="-10.00" y2="-4.50" stroke="#1a1a1a" stroke-width="1.4" />
<line x1="7.00" y1="-4.00" x2="10.00" y2="-4.50" stroke="#1a1a1a" stroke-width="1.4" />
<line x1="-7.00" y1="4.00" x2="-10.00" y2="4.50" stroke="#1a1a1a" stroke-width="1.4" />
<line x1="7.00" y1="4.00" x2="10.00" y2="4.50" stroke="#1a1a1a" stroke-width="1.4" />
<line x1="-5.00" y1="-6.50" x2="-6.00" y2="-9.50" stroke="#1a1a1a" stroke-width="1.4" />
<line x1="5.00" y1="-6.50" x2="6.00" y2="-9.50" stroke="#1a1a1a" stroke-width="1.4" />
<line x1="-4.00" y1="6.50" x2="-4.00" y2="9.00" stroke="#1a1a1a" stroke-width="1.4" />
<line x1="4.00" y1="6.50" x2="4.00" y2="9.00" stroke="#1a1a1a" stroke-width="1.4" />
</g>
<g transform="translate(615.5,192.2) rotate(145)">
<rect x="-7.00" y="-6.50" width="14.00" height="13.00" fill="#fff" stroke="#1a1a1a" stroke-width="0.9" />
<path d="M-6,-6.5 Q0,-10 6,-6.5" fill="none" stroke="#555" stroke-width="1.6" />
<line x1="-7.00" y1="-4.00" x2="-10.00" y2="-4.50" stroke="#1a1a1a" stroke-width="1.4" />
<line x1="7.00" y1="-4.00" x2="10.00" y2="-4.50" stroke="#1a1a1a" stroke-width="1.4" />
<line x1="-7.00" y1="4.00" x2="-10.00" y2="4.50" stroke="#1a1a1a" stroke-width="1.4" />
<line x1="7.00" y1="4.00" x2="10.00" y2="4.50" stroke="#1a1a1a" stroke-width="1.4" />
<line x1="-5.00" y1="-6.50" x2="-6.00" y2="-9.50" stroke="#1a1a1a" stroke-width="1.4" />
<line x1="5.00" y1="-6.50" x2="6.00" y2="-9.50" stroke="#1a1a1a" stroke-width="1.4" />
<line x1="-4.00" y1="6.50" x2="-4.00" y2="9.00" stroke="#1a1a1a" stroke-width="1.4" />
<line x1="4.00" y1="6.50" x2="4.00" y2="9.00" stroke="#1a1a1a" stroke-width="1.4" />
</g>
<g transform="translate(567.7,190.5) rotate(215)">
<rect x="-7.00" y="-6.50" width="14.00" height="13.00" fill="#fff" stroke="#1a1a1a" stroke-width="0.9" />
<path d="M-6,-6.5 Q0,-10 6,-6.5" fill="none" stroke="#555" stroke-width="1.6" />
<line x1="-7.00" y1="-4.00" x2="-10.00" y2="-4.50" stroke="#1a1a1a" stroke-width="1.4" />
<line x1="7.00" y1="-4.00" x2="10.00" y2="-4.50" stroke="#1a1a1a" stroke-width="1.4" />
<line x1="-7.00" y1="4.00" x2="-10.00" y2="4.50" stroke="#1a1a1a" stroke-width="1.4" />
<line x1="7.00" y1="4.00" x2="10.00" y2="4.50" stroke="#1a1a1a" stroke-width="1.4" />
<line x1="-5.00" y1="-6.50" x2="-6.00" y2="-9.50" stroke="#1a1a1a" stroke-width="1.4" />
<line x1="5.00" y1="-6.50" x2="6.00" y2="-9.50" stroke="#1a1a1a" stroke-width="1.4" />
<line x1="-4.00" y1="6.50" x2="-4.00" y2="9.00" stroke="#1a1a1a" stroke-width="1.4" />
<line x1="4.00" y1="6.50" x2="4.00" y2="9.00" stroke="#1a1a1a" stroke-width="1.4" />
</g>
<path d="M567.1,161.8 Q585,146 610.2,152.4 Q615,176 596,194 Q573,186 567.1,161.8 Z" fill="#fff" stroke="#1a1a1a" stroke-width="0.9" />
<path d="M567.1,161.8 L610.2,152.4 L596,194 Z" fill="none" stroke="#1a1a1a" stroke-width="0.8" />
<path d="M590.7,168.6 L588.8,159 M590.7,168.6 L583.6,177 M590.7,168.6 L602.5,171 M590.7,168.6 L594,163.5 M590.7,168.6 L584.5,168" fill="none" stroke="#1a1a1a" stroke-width="0.6" />
<text x="510.00" y="121.10" font-size="13" text-anchor="start" fill="#1a1a1a" >30,00</text>
<line x1="510.10" y1="124.00" x2="541.00" y2="124.00" stroke="#333" stroke-width="1.2" />
<path d="M509.60,212.00 L532.50,196.00 A27.94,27.94 0 0 1 538.20,212.00" fill="none" stroke="#777" stroke-width="0.8" />
<rect x="64.00" y="230.50" width="31.00" height="31.50" fill="none" stroke="#555" stroke-width="0.8" />
<line x1="79.00" y1="230.50" x2="79.00" y2="262.00" stroke="#555" stroke-width="0.8" />
<line x1="64.00" y1="246.00" x2="95.00" y2="246.00" stroke="#555" stroke-width="0.8" />
<path d="M94,231 L210,231 Q214,240 212,262 Q200,270 150,270 Q118,268 110,270 L105,262 Z" fill="#fff" stroke="#1a1a1a" stroke-width="1.1" />
<line x1="94.00" y1="234.50" x2="210.00" y2="234.50" stroke="#1a1a1a" stroke-width="0.9" />
<line x1="97.00" y1="238.00" x2="210.00" y2="238.00" stroke="#1a1a1a" stroke-width="0.9" />
<line x1="100.00" y1="242.50" x2="210.00" y2="242.50" stroke="#1a1a1a" stroke-width="0.9" />
<line x1="115.00" y1="231.00" x2="115.00" y2="266.00" stroke="#1a1a1a" stroke-width="0.9" />
<line x1="159.00" y1="231.00" x2="159.00" y2="268.00" stroke="#1a1a1a" stroke-width="0.9" />
<path d="M196,242 Q195,252 197,262 L212,262" fill="none" stroke="#1a1a1a" stroke-width="0.9" />
<path d="M64,263 L94,231 L110,238 Q115,255 112,268 L100,277 L80,270 Z" fill="#fff" stroke="#1a1a1a" stroke-width="1.1" />
<line x1="66.00" y1="262.00" x2="94.00" y2="233.00" stroke="#1a1a1a" stroke-width="0.8" />
<line x1="70.00" y1="264.00" x2="98.00" y2="235.00" stroke="#1a1a1a" stroke-width="0.8" />
<line x1="74.00" y1="266.00" x2="101.00" y2="238.00" stroke="#1a1a1a" stroke-width="0.8" />
<path d="M64,262 L80,270 L100,277 Q103,290 100,305 Q110,318 112,330 Q110,338 100,340 Q92,344 70,343 Q64,335 64,320 Z" fill="#fff" stroke="#1a1a1a" stroke-width="1.1" />
<line x1="64.00" y1="292.00" x2="100.00" y2="292.00" stroke="#1a1a1a" stroke-width="0.9" />
<line x1="64.00" y1="295.00" x2="100.00" y2="295.00" stroke="#1a1a1a" stroke-width="0.9" />
<line x1="68.00" y1="264.00" x2="70.00" y2="336.00" stroke="#1a1a1a" stroke-width="0.8" />
<line x1="72.00" y1="266.00" x2="76.00" y2="335.00" stroke="#1a1a1a" stroke-width="0.8" />
<line x1="78.00" y1="268.00" x2="84.00" y2="334.00" stroke="#1a1a1a" stroke-width="0.8" />
<path d="M68,328 Q80,322 92,330 Q96,340 90,343" fill="none" stroke="#1a1a1a" stroke-width="0.9" />
<circle cx="156.4" cy="307.8" r="19.8" fill="#fff" stroke="#1a1a1a" stroke-width="1"/>
<circle cx="156.4" cy="307.8" r="17.6" fill="none" stroke="#1a1a1a" stroke-width="1"/>
<circle cx="353.3" cy="310.9" r="20.2" fill="#fff" stroke="#1a1a1a" stroke-width="1"/>
<circle cx="353.3" cy="310.9" r="18.0" fill="none" stroke="#1a1a1a" stroke-width="1"/>
<g transform="translate(323.50,258.70) rotate(-22) scale(1.0)">
<path d="M-15.00,-19.00 H15.00 Q22.00,-19.00 22.00,-12.00 V13.00 Q22.00,20.00 15.00,20.00 H-15.00 Q-22.00,20.00 -22.00,13.00 V-12.00 Q-22.00,-19.00 -15.00,-19.00Z" fill="#fff" stroke="#1a1a1a" stroke-width="0.9" />
<path d="M-17.00,-19.00 H-16.00 Q-11.00,-19.00 -11.00,-14.00 V9.00 Q-11.00,14.00 -16.00,14.00 H-17.00 Q-22.00,14.00 -22.00,9.00 V-14.00 Q-22.00,-19.00 -17.00,-19.00Z" fill="#fff" stroke="#1a1a1a" stroke-width="0.9" />
<path d="M16.00,-19.00 H17.00 Q22.00,-19.00 22.00,-14.00 V9.00 Q22.00,14.00 17.00,14.00 H16.00 Q11.00,14.00 11.00,9.00 V-14.00 Q11.00,-19.00 16.00,-19.00Z" fill="#fff" stroke="#1a1a1a" stroke-width="0.9" />
<path d="M-11,-15 L11,-15 L11,-10 L-11,-10 Z" fill="#fff" stroke="#1a1a1a" stroke-width="0.9" />
<line x1="-11.00" y1="-17.50" x2="11.00" y2="-17.50" stroke="#1a1a1a" stroke-width="0.6" />
<line x1="-11.00" y1="-16.30" x2="11.00" y2="-16.30" stroke="#1a1a1a" stroke-width="0.6" />
</g>
<g transform="translate(240.70,303.70) rotate(59) scale(1.0)">
<path d="M-15.00,-19.00 H15.00 Q22.00,-19.00 22.00,-12.00 V13.00 Q22.00,20.00 15.00,20.00 H-15.00 Q-22.00,20.00 -22.00,13.00 V-12.00 Q-22.00,-19.00 -15.00,-19.00Z" fill="#fff" stroke="#1a1a1a" stroke-width="0.9" />
<path d="M-17.00,-19.00 H-16.00 Q-11.00,-19.00 -11.00,-14.00 V9.00 Q-11.00,14.00 -16.00,14.00 H-17.00 Q-22.00,14.00 -22.00,9.00 V-14.00 Q-22.00,-19.00 -17.00,-19.00Z" fill="#fff" stroke="#1a1a1a" stroke-width="0.9" />
<path d="M16.00,-19.00 H17.00 Q22.00,-19.00 22.00,-14.00 V9.00 Q22.00,14.00 17.00,14.00 H16.00 Q11.00,14.00 11.00,9.00 V-14.00 Q11.00,-19.00 16.00,-19.00Z" fill="#fff" stroke="#1a1a1a" stroke-width="0.9" />
<path d="M-11,-15 L11,-15 L11,-10 L-11,-10 Z" fill="#fff" stroke="#1a1a1a" stroke-width="0.9" />
<line x1="-11.00" y1="-17.50" x2="11.00" y2="-17.50" stroke="#1a1a1a" stroke-width="0.6" />
<line x1="-11.00" y1="-16.30" x2="11.00" y2="-16.30" stroke="#1a1a1a" stroke-width="0.6" />
</g>
<g transform="translate(413.50,297.70) rotate(62) scale(1.0)">
<path d="M-15.00,-19.00 H15.00 Q22.00,-19.00 22.00,-12.00 V13.00 Q22.00,20.00 15.00,20.00 H-15.00 Q-22.00,20.00 -22.00,13.00 V-12.00 Q-22.00,-19.00 -15.00,-19.00Z" fill="#fff" stroke="#1a1a1a" stroke-width="0.9" />
<path d="M-17.00,-19.00 H-16.00 Q-11.00,-19.00 -11.00,-14.00 V9.00 Q-11.00,14.00 -16.00,14.00 H-17.00 Q-22.00,14.00 -22.00,9.00 V-14.00 Q-22.00,-19.00 -17.00,-19.00Z" fill="#fff" stroke="#1a1a1a" stroke-width="0.9" />
<path d="M16.00,-19.00 H17.00 Q22.00,-19.00 22.00,-14.00 V9.00 Q22.00,14.00 17.00,14.00 H16.00 Q11.00,14.00 11.00,9.00 V-14.00 Q11.00,-19.00 16.00,-19.00Z" fill="#fff" stroke="#1a1a1a" stroke-width="0.9" />
<path d="M-11,-15 L11,-15 L11,-10 L-11,-10 Z" fill="#fff" stroke="#1a1a1a" stroke-width="0.9" />
<line x1="-11.00" y1="-17.50" x2="11.00" y2="-17.50" stroke="#1a1a1a" stroke-width="0.6" />
<line x1="-11.00" y1="-16.30" x2="11.00" y2="-16.30" stroke="#1a1a1a" stroke-width="0.6" />
</g>
<use href="#plant" x="249.96" y="236.01" width="35.34" height="33.63" preserveAspectRatio="none"/>
<use href="#plant" x="415.76" y="235.98" width="34.28" height="32.62" preserveAspectRatio="none"/>
<text x="267.60" y="341.00" font-size="13" text-anchor="start" fill="#1a1a1a" >39,25</text>
<line x1="267.90" y1="344.20" x2="299.20" y2="344.20" stroke="#333" stroke-width="1.2" />
<path d="M64,360.4 L88.4,360.4 L88.4,399.6 L184.7,399.6 L184.7,421" fill="none" stroke="#666" stroke-width="0.9" />
<path d="M86.6,362 L86.6,398 L183.2,398 L183.2,421" fill="none" stroke="#999" stroke-width="0.6" />
<use href="#splant" x="68.60" y="363.10" width="13.80" height="13.80"/>
<use href="#splant" x="68.30" y="380.10" width="13.80" height="13.80"/>
<path d="M105,407 L161,407 L158,409 L108,409 Z" fill="#222" stroke="#1a1a1a" stroke-width="0.6" />
<ellipse cx="133" cy="410.5" rx="11.4" ry="5.1" fill="none" stroke="#444" stroke-width="0.7"/>
<circle cx="133" cy="410.8" r="2" fill="#000"/>
<rect x="272.00" y="387.50" width="54.30" height="33.00" fill="#fff" stroke="#555" stroke-width="0.9" />
<path d="M276,420.5 L276,391.5 L322.3,391.5 L322.3,420.5" fill="none" stroke="#555" stroke-width="0.7" />
<text x="229.60" y="372.60" font-size="13" text-anchor="start" fill="#1a1a1a" >камин</text>
<path d="M227.9,374.7 L268.7,374.7 L289.2,393" fill="none" stroke="#1a1a1a" stroke-width="0.9" />
<line x1="326.30" y1="400.70" x2="457.00" y2="400.70" stroke="#999" stroke-width="0.8" />
<line x1="326.30" y1="403.30" x2="457.00" y2="403.30" stroke="#999" stroke-width="0.8" />
<circle cx="566" cy="281.6" r="24.5" fill="none" stroke="#333" stroke-width="0.7"/>
<circle cx="566" cy="281.6" r="22.5" fill="none" stroke="#333" stroke-width="0.5"/>
<g transform="translate(549.6,253.9) rotate(-30.627983298428916)">
<circle cx="0" cy="0.6" r="8.4" fill="#fff" stroke="#1a1a1a" stroke-width="1"/>
<path d="M-8.9,1.5 A9.2,9.2 0 0 1 8.9,1.5" fill="none" stroke="#1a1a1a" stroke-width="2.2"/>
<path d="M-10.2,2.5 L-7.8,0.5 M10.2,2.5 L7.8,0.5" fill="none" stroke="#1a1a1a" stroke-width="1.6"/>
</g>
<g transform="translate(582.7,253.9) rotate(31.085274440036343)">
<circle cx="0" cy="0.6" r="8.4" fill="#fff" stroke="#1a1a1a" stroke-width="1"/>
<path d="M-8.9,1.5 A9.2,9.2 0 0 1 8.9,1.5" fill="none" stroke="#1a1a1a" stroke-width="2.2"/>
<path d="M-10.2,2.5 L-7.8,0.5 M10.2,2.5 L7.8,0.5" fill="none" stroke="#1a1a1a" stroke-width="1.6"/>
</g>
<g transform="translate(533.3,281) rotate(-88.94881925045621)">
<circle cx="0" cy="0.6" r="8.4" fill="#fff" stroke="#1a1a1a" stroke-width="1"/>
<path d="M-8.9,1.5 A9.2,9.2 0 0 1 8.9,1.5" fill="none" stroke="#1a1a1a" stroke-width="2.2"/>
<path d="M-10.2,2.5 L-7.8,0.5 M10.2,2.5 L7.8,0.5" fill="none" stroke="#1a1a1a" stroke-width="1.6"/>
</g>
<g transform="translate(597.2,281) rotate(88.89829388479359)">
<circle cx="0" cy="0.6" r="8.4" fill="#fff" stroke="#1a1a1a" stroke-width="1"/>
<path d="M-8.9,1.5 A9.2,9.2 0 0 1 8.9,1.5" fill="none" stroke="#1a1a1a" stroke-width="2.2"/>
<path d="M-10.2,2.5 L-7.8,0.5 M10.2,2.5 L7.8,0.5" fill="none" stroke="#1a1a1a" stroke-width="1.6"/>
</g>
<g transform="translate(549.6,309.4) rotate(210.53754711782867)">
<circle cx="0" cy="0.6" r="8.4" fill="#fff" stroke="#1a1a1a" stroke-width="1"/>
<path d="M-8.9,1.5 A9.2,9.2 0 0 1 8.9,1.5" fill="none" stroke="#1a1a1a" stroke-width="2.2"/>
<path d="M-10.2,2.5 L-7.8,0.5 M10.2,2.5 L7.8,0.5" fill="none" stroke="#1a1a1a" stroke-width="1.6"/>
</g>
<g transform="translate(582.7,309.4) rotate(149.00594427481576)">
<circle cx="0" cy="0.6" r="8.4" fill="#fff" stroke="#1a1a1a" stroke-width="1"/>
<path d="M-8.9,1.5 A9.2,9.2 0 0 1 8.9,1.5" fill="none" stroke="#1a1a1a" stroke-width="2.2"/>
<path d="M-10.2,2.5 L-7.8,0.5 M10.2,2.5 L7.8,0.5" fill="none" stroke="#1a1a1a" stroke-width="1.6"/>
</g>
<rect x="550.60" y="266.40" width="31.10" height="30.50" fill="#fff" stroke="#333" stroke-width="2.2" />
<rect x="552.60" y="268.40" width="27.10" height="26.50" fill="none" stroke="#1a1a1a" stroke-width="0.6" />
<line x1="566.00" y1="262.00" x2="566.00" y2="301.00" stroke="#1a1a1a" stroke-width="0.8" />
<line x1="577.00" y1="279.00" x2="595.00" y2="306.00" stroke="#333" stroke-width="0.7" />
<text x="529.00" y="352.60" font-size="13" text-anchor="start" fill="#1a1a1a" >15,80</text>
<line x1="528.80" y1="355.60" x2="559.60" y2="355.60" stroke="#333" stroke-width="1.2" />
<path d="M630,316 Q603,318 603,342 L603,393.7 L470,393.7" fill="none" stroke="#666" stroke-width="0.8" />
<rect x="470.30" y="391.30" width="25.90" height="29.50" fill="#fff" stroke="#555" stroke-width="0.8" />
<path d="M470.3,391.3 L496.2,420.8 M496.2,391.3 L470.3,420.8" fill="none" stroke="#555" stroke-width="0.7" />
<rect x="523.50" y="395.00" width="23.80" height="24.00" fill="#fff" stroke="#444" stroke-width="0.8" />
<rect x="525.00" y="396.50" width="20.80" height="21.00" fill="none" stroke="#444" stroke-width="0.5" />
<circle cx="530" cy="402" r="2.8" fill="none" stroke="#333" stroke-width="0.8"/>
<circle cx="540" cy="402" r="2.8" fill="none" stroke="#333" stroke-width="0.8"/>
<circle cx="530" cy="412" r="2.8" fill="none" stroke="#333" stroke-width="0.8"/>
<circle cx="540" cy="412" r="2.8" fill="none" stroke="#333" stroke-width="0.8"/>
<rect x="606.00" y="374.00" width="18.00" height="19.40" fill="#fff" stroke="#555" stroke-width="0.8" />
<rect x="606.00" y="396.00" width="18.00" height="8.00" fill="#fff" stroke="#555" stroke-width="0.8" />
<rect x="457.00" y="258.80" width="12.70" height="21.80" fill="#fff" />
<rect x="457.30" y="258.80" width="12.10" height="21.80" fill="none" stroke="#666" stroke-width="0.7" />
<use href="#splant" x="457.00" y="263.40" width="12.60" height="12.60"/>
<rect x="457.00" y="372.40" width="12.70" height="21.90" fill="#fff" />
<rect x="457.30" y="372.40" width="12.10" height="21.90" fill="none" stroke="#666" stroke-width="0.7" />
<use href="#splant" x="457.00" y="377.05" width="12.60" height="12.60"/>
<rect x="294.50" y="415.80" width="17.80" height="17.20" fill="#fff" stroke="#444" stroke-width="0.8" />
<rect x="296.50" y="417.80" width="13.80" height="13.20" fill="none" stroke="#888" stroke-width="0.6" />
<circle cx="303.4" cy="424.4" r="5.2" fill="#111"/>
<rect x="314.00" y="423.00" width="8.50" height="9.30" fill="#fff" stroke="#555" stroke-width="0.7" />
<circle cx="318.25" cy="427.6" r="3" fill="#888" stroke="#333" stroke-width="0.6"/>
<rect x="324.00" y="423.00" width="8.50" height="9.30" fill="#fff" stroke="#555" stroke-width="0.7" />
<rect x="334.00" y="423.00" width="8.50" height="9.30" fill="#fff" stroke="#555" stroke-width="0.7" />
<rect x="344.00" y="423.00" width="8.50" height="9.30" fill="#fff" stroke="#555" stroke-width="0.7" />
<rect x="354.00" y="423.00" width="8.50" height="9.30" fill="#fff" stroke="#555" stroke-width="0.7" />
<rect x="363.50" y="423.00" width="4.00" height="9.30" fill="#fff" stroke="#555" stroke-width="0.6" />
<rect x="448.00" y="422.70" width="8.30" height="9.90" fill="#fff" stroke="#555" stroke-width="0.7" />
<circle cx="452.1" cy="427.6" r="2.5" fill="none" stroke="#333" stroke-width="0.8"/>
<rect x="470.50" y="423.00" width="9.00" height="9.60" fill="#fff" stroke="#555" stroke-width="0.7" />
<circle cx="475" cy="427.8" r="3" fill="#888" stroke="#333" stroke-width="0.6"/>
<rect x="482.00" y="423.30" width="8.00" height="9.20" fill="#fff" stroke="#777" stroke-width="0.9" />
<rect x="490.50" y="423.30" width="8.00" height="9.20" fill="#fff" stroke="#777" stroke-width="0.9" />
<rect x="499.00" y="423.30" width="8.00" height="9.20" fill="#fff" stroke="#777" stroke-width="0.9" />
<line x1="70.10" y1="433.30" x2="70.10" y2="477.30" stroke="#9c9c9c" stroke-width="1" />
<line x1="82.03" y1="433.30" x2="82.03" y2="477.30" stroke="#9c9c9c" stroke-width="1" />
<line x1="93.96" y1="433.30" x2="93.96" y2="477.30" stroke="#9c9c9c" stroke-width="1" />
<line x1="105.89" y1="433.30" x2="105.89" y2="477.30" stroke="#9c9c9c" stroke-width="1" />
<line x1="117.82" y1="433.30" x2="117.82" y2="477.30" stroke="#9c9c9c" stroke-width="1" />
<line x1="129.75" y1="433.30" x2="129.75" y2="477.30" stroke="#9c9c9c" stroke-width="1" />
<line x1="141.68" y1="433.30" x2="141.68" y2="477.30" stroke="#9c9c9c" stroke-width="1" />
<line x1="153.61" y1="433.30" x2="153.61" y2="477.30" stroke="#9c9c9c" stroke-width="1" />
<line x1="165.54" y1="433.30" x2="165.54" y2="477.30" stroke="#9c9c9c" stroke-width="1" />
<line x1="177.47" y1="433.30" x2="177.47" y2="477.30" stroke="#9c9c9c" stroke-width="1" />
<line x1="189.40" y1="433.30" x2="189.40" y2="477.30" stroke="#9c9c9c" stroke-width="1" />
<line x1="70.10" y1="477.30" x2="70.10" y2="521.80" stroke="#9c9c9c" stroke-width="1" />
<line x1="82.03" y1="477.30" x2="82.03" y2="521.80" stroke="#9c9c9c" stroke-width="1" />
<line x1="93.96" y1="477.30" x2="93.96" y2="521.80" stroke="#9c9c9c" stroke-width="1" />
<line x1="105.89" y1="477.30" x2="105.89" y2="521.80" stroke="#9c9c9c" stroke-width="1" />
<line x1="117.82" y1="477.30" x2="117.82" y2="521.80" stroke="#9c9c9c" stroke-width="1" />
<line x1="70.10" y1="455.30" x2="189.40" y2="455.30" stroke="#9c9c9c" stroke-width="1" />
<line x1="70.10" y1="477.30" x2="189.40" y2="477.30" stroke="#9c9c9c" stroke-width="1" />
<line x1="70.10" y1="499.30" x2="117.80" y2="499.30" stroke="#9c9c9c" stroke-width="1" />
<circle cx="189.4" cy="455.3" r="1.6" fill="#9c9c9c"/>
<path d="M112.5,495 L117.8,499.3 L112.5,503.6" fill="none" stroke="#9c9c9c" stroke-width="1" />
<path d="M70.1,455.3 Q48,458 48,478 Q49,494 64,499" fill="none" stroke="#9c9c9c" stroke-width="1" />
<path d="M58.5,498.5 L64.5,499.2 L61,494" fill="none" stroke="#9c9c9c" stroke-width="1" />
<text x="207.80" y="482.60" font-size="13" text-anchor="start" fill="#1a1a1a" >4,85</text>
<line x1="207.90" y1="485.60" x2="233.80" y2="485.60" stroke="#333" stroke-width="1.2" />
<path d="M266.00,441.00 L284.20,462.60 A28.25,28.25 0 0 1 266.00,470.80" fill="none" stroke="#777" stroke-width="0.8" />
<path d="M364.6,440 L346,440 Q337.4,440 337.4,447.6 Q337.4,455.2 346,455.2 L364.6,455.2" fill="#fff" stroke="#1a1a1a" stroke-width="0.9" />
<path d="M361,442 L348,442 Q340,442 340,447.6 Q340,453.2 348,453.2 L361,453.2" fill="none" stroke="#1a1a1a" stroke-width="0.6" />
<circle cx="351" cy="447.6" r="0.9" fill="#000"/><circle cx="356" cy="447.6" r="0.9" fill="#000"/><circle cx="360" cy="447.6" r="0.9" fill="#000"/>
<path d="M364.6,468.8 L364.6,511 L321.5,511 L321.5,482 Q336,468.8 364.6,468.8 Z" fill="#fff" stroke="#1a1a1a" stroke-width="1" />
<path d="M361.6,471.8 L361.6,508 L324.5,508 L324.5,484 Q337,471.8 361.6,471.8 Z" fill="none" stroke="#1a1a1a" stroke-width="0.6" />
<clipPath id="sh1"><path d="M357,477 L357,503 L329,503 L329,488 Q341,477 357,477 Z"/></clipPath>
<path d="M308.2,504.0 L336.2,476.0 M310.8,504.0 L338.8,476.0 M313.4,504.0 L341.4,476.0 M316.0,504.0 L344.0,476.0 M318.6,504.0 L346.6,476.0 M321.2,504.0 L349.2,476.0 M323.8,504.0 L351.8,476.0 M326.4,504.0 L354.4,476.0 M329.0,504.0 L357.0,476.0 M331.6,504.0 L359.6,476.0 M334.2,504.0 L362.2,476.0 M336.8,504.0 L364.8,476.0 M339.4,504.0 L367.4,476.0 M342.0,504.0 L370.0,476.0 M344.6,504.0 L372.6,476.0 M347.2,504.0 L375.2,476.0 M349.8,504.0 L377.8,476.0" stroke="#555" stroke-width="1.15" clip-path="url(#sh1)"/>
<circle cx="355" cy="503.5" r="2" fill="#fff" stroke="#222" stroke-width="0.7"/>
<line x1="266.00" y1="500.40" x2="321.50" y2="500.40" stroke="#777" stroke-width="0.6" />
<circle cx="279.5" cy="500.4" r="8.6" fill="#fff" stroke="#333" stroke-width="0.8"/>
<circle cx="279.5" cy="500.4" r="6.8" fill="none" stroke="#333" stroke-width="0.8"/>
<path d="M279.5,505 L279.5,512 M277.0,509 L282.0,509" fill="none" stroke="#1a1a1a" stroke-width="0.9" />
<line x1="266.00" y1="500.40" x2="321.50" y2="500.40" stroke="#777" stroke-width="0.6" />
<circle cx="307.3" cy="500.4" r="8.6" fill="#fff" stroke="#333" stroke-width="0.8"/>
<circle cx="307.3" cy="500.4" r="6.8" fill="none" stroke="#333" stroke-width="0.8"/>
<path d="M307.3,505 L307.3,512 M304.8,509 L309.8,509" fill="none" stroke="#1a1a1a" stroke-width="0.9" />
<text x="297.60" y="466.80" font-size="13" text-anchor="start" fill="#1a1a1a" >3,95</text>
<line x1="297.60" y1="469.30" x2="323.00" y2="469.30" stroke="#333" stroke-width="1.2" />
<path d="M370.6,434 L414.3,434 L414.3,455 Q410,475.7 388,475.7 L370.6,475.7 Z" fill="#fff" stroke="#1a1a1a" stroke-width="1" />
<path d="M373.6,437 L411.3,437 L411.3,455 Q407.5,472.7 388,472.7 L373.6,472.7 Z" fill="none" stroke="#1a1a1a" stroke-width="0.6" />
<clipPath id="sh2"><path d="M377,441 L406,441 L406,455 Q403,468 388,468 L377,468 Z"/></clipPath>
<path d="M357.2,469.0 L385.2,441.0 M359.8,469.0 L387.8,441.0 M362.4,469.0 L390.4,441.0 M365.0,469.0 L393.0,441.0 M367.6,469.0 L395.6,441.0 M370.2,469.0 L398.2,441.0 M372.8,469.0 L400.8,441.0 M375.4,469.0 L403.4,441.0 M378.0,469.0 L406.0,441.0 M380.6,469.0 L408.6,441.0 M383.2,469.0 L411.2,441.0 M385.8,469.0 L413.8,441.0 M388.4,469.0 L416.4,441.0 M391.0,469.0 L419.0,441.0 M393.6,469.0 L421.6,441.0 M396.2,469.0 L424.2,441.0 M398.8,469.0 L426.8,441.0" stroke="#555" stroke-width="1.15" clip-path="url(#sh2)"/>
<circle cx="378.5" cy="442" r="2" fill="#fff" stroke="#222" stroke-width="0.7"/>
<path d="M428.5,434 L428.5,452 Q428.5,459.7 436.5,459.7 Q444.5,459.7 444.5,452 L444.5,434" fill="#fff" stroke="#1a1a1a" stroke-width="0.9" />
<path d="M430.5,437 L430.5,451 Q430.5,457.3 436.5,457.3 Q442.5,457.3 442.5,451 L442.5,437" fill="none" stroke="#1a1a1a" stroke-width="0.6" />
<circle cx="436.5" cy="441" r="0.9" fill="#000"/><circle cx="436.5" cy="446" r="0.9" fill="#000"/>
<line x1="436.50" y1="434.00" x2="436.50" y2="438.00" stroke="#1a1a1a" stroke-width="0.7" />
<line x1="381.70" y1="476.00" x2="381.70" y2="532.00" stroke="#777" stroke-width="0.6" />
<circle cx="381.7" cy="490.8" r="8.6" fill="#fff" stroke="#333" stroke-width="0.8"/>
<circle cx="381.7" cy="490.8" r="6.8" fill="none" stroke="#333" stroke-width="0.8"/>
<path d="M376,490.8 L371,490.8 M373.5,488.3 L373.5,493.3" fill="none" stroke="#1a1a1a" stroke-width="0.9" />
<line x1="381.70" y1="476.00" x2="381.70" y2="532.00" stroke="#777" stroke-width="0.6" />
<circle cx="381.7" cy="517" r="8.6" fill="#fff" stroke="#333" stroke-width="0.8"/>
<circle cx="381.7" cy="517" r="6.8" fill="none" stroke="#333" stroke-width="0.8"/>
<path d="M376,517 L371,517 M373.5,514.5 L373.5,519.5" fill="none" stroke="#1a1a1a" stroke-width="0.9" />
<text x="402.60" y="493.00" font-size="13" text-anchor="start" fill="#1a1a1a" >4,40</text>
<line x1="402.60" y1="495.80" x2="428.00" y2="495.80" stroke="#333" stroke-width="1.2" />
<path d="M400.80,538.30 L423.40,557.00 A29.33,29.33 0 0 0 431.20,538.30" fill="none" stroke="#777" stroke-width="0.8" />
<rect x="265.50" y="517.00" width="99.50" height="27.30" fill="#fff" stroke="#555" stroke-width="0.8" />
<line x1="265.20" y1="544.30" x2="336.00" y2="544.30" stroke="#444" stroke-width="1.6" />
<path d="M270.5,521 Q276.0,530.5 270.5,540 Z" fill="#f4f4f4" stroke="#a8a8a8" stroke-width="0.9"/>
<path d="M269.3,521.5 Q268.3,530.5 269.3,539.5" fill="none" stroke="#b8b8b8" stroke-width="0.7"/>
<line x1="270.50" y1="530.50" x2="275.00" y2="530.50" stroke="#aaa" stroke-width="0.7" />
<path d="M278.6,521 Q284.1,530.5 278.6,540 Z" fill="#f4f4f4" stroke="#a8a8a8" stroke-width="0.9"/>
<path d="M277.4,521.5 Q276.4,530.5 277.4,539.5" fill="none" stroke="#b8b8b8" stroke-width="0.7"/>
<line x1="278.65" y1="530.50" x2="283.15" y2="530.50" stroke="#aaa" stroke-width="0.7" />
<path d="M286.8,521 Q292.3,530.5 286.8,540 Z" fill="#f4f4f4" stroke="#a8a8a8" stroke-width="0.9"/>
<path d="M285.6,521.5 Q284.6,530.5 285.6,539.5" fill="none" stroke="#b8b8b8" stroke-width="0.7"/>
<line x1="286.80" y1="530.50" x2="291.30" y2="530.50" stroke="#aaa" stroke-width="0.7" />
<path d="M294.9,521 Q300.4,530.5 294.9,540 Z" fill="#f4f4f4" stroke="#a8a8a8" stroke-width="0.9"/>
<path d="M293.8,521.5 Q292.8,530.5 293.8,539.5" fill="none" stroke="#b8b8b8" stroke-width="0.7"/>
<line x1="294.95" y1="530.50" x2="299.45" y2="530.50" stroke="#aaa" stroke-width="0.7" />
<path d="M303.1,521 Q308.6,530.5 303.1,540 Z" fill="#f4f4f4" stroke="#a8a8a8" stroke-width="0.9"/>
<path d="M301.9,521.5 Q300.9,530.5 301.9,539.5" fill="none" stroke="#b8b8b8" stroke-width="0.7"/>
<line x1="303.10" y1="530.50" x2="307.60" y2="530.50" stroke="#aaa" stroke-width="0.7" />
<path d="M311.2,521 Q316.8,530.5 311.2,540 Z" fill="#f4f4f4" stroke="#a8a8a8" stroke-width="0.9"/>
<path d="M310.1,521.5 Q309.1,530.5 310.1,539.5" fill="none" stroke="#b8b8b8" stroke-width="0.7"/>
<line x1="311.25" y1="530.50" x2="315.75" y2="530.50" stroke="#aaa" stroke-width="0.7" />
<path d="M319.4,521 Q324.9,530.5 319.4,540 Z" fill="#f4f4f4" stroke="#a8a8a8" stroke-width="0.9"/>
<path d="M318.2,521.5 Q317.2,530.5 318.2,539.5" fill="none" stroke="#b8b8b8" stroke-width="0.7"/>
<line x1="319.40" y1="530.50" x2="323.90" y2="530.50" stroke="#aaa" stroke-width="0.7" />
<path d="M327.6,521 Q333.1,530.5 327.6,540 Z" fill="#f4f4f4" stroke="#a8a8a8" stroke-width="0.9"/>
<path d="M326.4,521.5 Q325.4,530.5 326.4,539.5" fill="none" stroke="#b8b8b8" stroke-width="0.7"/>
<line x1="327.55" y1="530.50" x2="332.05" y2="530.50" stroke="#aaa" stroke-width="0.7" />
<path d="M335.7,521 Q341.2,530.5 335.7,540 Z" fill="#f4f4f4" stroke="#a8a8a8" stroke-width="0.9"/>
<path d="M334.5,521.5 Q333.5,530.5 334.5,539.5" fill="none" stroke="#b8b8b8" stroke-width="0.7"/>
<line x1="335.70" y1="530.50" x2="340.20" y2="530.50" stroke="#aaa" stroke-width="0.7" />
<path d="M343.9,521 Q349.4,530.5 343.9,540 Z" fill="#f4f4f4" stroke="#a8a8a8" stroke-width="0.9"/>
<path d="M342.7,521.5 Q341.7,530.5 342.7,539.5" fill="none" stroke="#b8b8b8" stroke-width="0.7"/>
<line x1="343.85" y1="530.50" x2="348.35" y2="530.50" stroke="#aaa" stroke-width="0.7" />
<path d="M352.0,521 Q357.5,530.5 352.0,540 Z" fill="#f4f4f4" stroke="#a8a8a8" stroke-width="0.9"/>
<path d="M350.8,521.5 Q349.8,530.5 350.8,539.5" fill="none" stroke="#b8b8b8" stroke-width="0.7"/>
<line x1="352.00" y1="530.50" x2="356.50" y2="530.50" stroke="#aaa" stroke-width="0.7" />
<path d="M360.1,521 Q365.6,530.5 360.1,540 Z" fill="#f4f4f4" stroke="#a8a8a8" stroke-width="0.9"/>
<path d="M358.9,521.5 Q357.9,530.5 358.9,539.5" fill="none" stroke="#b8b8b8" stroke-width="0.7"/>
<line x1="360.15" y1="530.50" x2="364.65" y2="530.50" stroke="#aaa" stroke-width="0.7" />
<line x1="336.50" y1="544.30" x2="336.50" y2="587.60" stroke="#444" stroke-width="1.6" />
<line x1="336.00" y1="587.60" x2="365.00" y2="587.60" stroke="#444" stroke-width="1.6" />
<rect x="333.60" y="540.40" width="6.40" height="6.10" fill="#333" />
<path d="M341,550.5 Q351,546.0 361,550.5 Z" fill="#f4f4f4" stroke="#a8a8a8" stroke-width="0.9"/>
<line x1="351.00" y1="550.50" x2="351.00" y2="553.50" stroke="#aaa" stroke-width="0.7" />
<path d="M341,557.4 Q351,552.9 361,557.4 Z" fill="#f4f4f4" stroke="#a8a8a8" stroke-width="0.9"/>
<line x1="351.00" y1="557.40" x2="351.00" y2="560.40" stroke="#aaa" stroke-width="0.7" />
<path d="M341,564.3 Q351,559.8 361,564.3 Z" fill="#f4f4f4" stroke="#a8a8a8" stroke-width="0.9"/>
<line x1="351.00" y1="564.30" x2="351.00" y2="567.30" stroke="#aaa" stroke-width="0.7" />
<path d="M341,571.2 Q351,566.7 361,571.2 Z" fill="#f4f4f4" stroke="#a8a8a8" stroke-width="0.9"/>
<line x1="351.00" y1="571.20" x2="351.00" y2="574.20" stroke="#aaa" stroke-width="0.7" />
<path d="M341,578.1 Q351,573.6 361,578.1 Z" fill="#f4f4f4" stroke="#a8a8a8" stroke-width="0.9"/>
<line x1="351.00" y1="578.10" x2="351.00" y2="581.10" stroke="#aaa" stroke-width="0.7" />
<path d="M341,585.0 Q351,580.5 361,585.0 Z" fill="#f4f4f4" stroke="#a8a8a8" stroke-width="0.9"/>
<line x1="351.00" y1="585.00" x2="351.00" y2="588.00" stroke="#aaa" stroke-width="0.7" />
<text x="253.50" y="587.70" font-size="13" text-anchor="start" fill="#1a1a1a" >9,20</text>
<line x1="253.20" y1="590.60" x2="278.80" y2="590.60" stroke="#333" stroke-width="1.2" />
<path d="M207.80,526.60 L236.30,550.50 A37.19,37.19 0 0 0 246.10,526.60" fill="none" stroke="#777" stroke-width="0.8" />
<path d="M177.10,526.60 L148.30,550.40 A37.36,37.36 0 0 1 139.40,526.60" fill="none" stroke="#777" stroke-width="0.8" />
<path d="M370.30,590.40 L389.00,614.00 A30.11,30.11 0 0 1 370.30,621.00" fill="none" stroke="#777" stroke-width="0.8" />
<path d="M243.00,642.00 L271.30,665.00 A36.47,36.47 0 0 0 280.70,642.00" fill="none" stroke="#777" stroke-width="0.8" />
<text x="248.80" y="697.80" font-size="13" text-anchor="start" fill="#1a1a1a" >5,00</text>
<line x1="248.60" y1="700.60" x2="274.20" y2="700.60" stroke="#333" stroke-width="1.2" />
<line x1="203.60" y1="728.80" x2="319.90" y2="728.80" stroke="#999" stroke-width="1" />
<line x1="203.60" y1="741.20" x2="319.90" y2="741.20" stroke="#999" stroke-width="1" />
<line x1="203.60" y1="753.80" x2="319.90" y2="753.80" stroke="#999" stroke-width="1" />
<line x1="203.60" y1="766.10" x2="319.90" y2="766.10" stroke="#999" stroke-width="1" />
<line x1="203.80" y1="728.80" x2="203.80" y2="766.10" stroke="#999" stroke-width="1" />
<rect x="339.30" y="637.00" width="26.90" height="80.90" fill="#fff" stroke="#666" stroke-width="0.8" />
<path d="M339.3,637 L366.2,717.9 M366.2,637 L339.3,717.9" fill="none" stroke="#777" stroke-width="0.7" />
<rect x="439.50" y="690.40" width="17.00" height="18.10" fill="#fff" stroke="#444" stroke-width="0.8" />
<rect x="441.50" y="692.40" width="13.00" height="14.10" fill="none" stroke="#888" stroke-width="0.6" />
<circle cx="448" cy="699.5" r="5" fill="#111"/>
<rect x="439.50" y="708.50" width="17.00" height="9.50" fill="#fff" stroke="#777" stroke-width="0.7" />
<text x="393.00" y="652.10" font-size="13" text-anchor="start" fill="#1a1a1a" >9,35</text>
<line x1="393.00" y1="655.00" x2="418.60" y2="655.00" stroke="#333" stroke-width="1.2" />
<path d="M412.90,717.90 L383.70,694.40 A37.48,37.48 0 0 0 374.90,717.90" fill="none" stroke="#777" stroke-width="0.8" />
<path d="M456.80,558.00 L438.10,580.60 A29.33,29.33 0 0 0 456.80,590.50" fill="none" stroke="#777" stroke-width="0.8" />
<rect x="470.30" y="433.80" width="16.40" height="112.60" fill="#fff" stroke="#666" stroke-width="0.8" />
<path d="M470.3,433.8 L486.7,471.3 M486.7,433.8 L470.3,471.3" fill="none" stroke="#777" stroke-width="0.7" />
<line x1="470.30" y1="471.30" x2="486.70" y2="471.30" stroke="#666" stroke-width="0.8" />
<path d="M470.3,471.3 L486.7,508.8 M486.7,471.3 L470.3,508.8" fill="none" stroke="#777" stroke-width="0.7" />
<line x1="470.30" y1="508.80" x2="486.70" y2="508.80" stroke="#666" stroke-width="0.8" />
<path d="M470.3,508.8 L486.7,546.4 M486.7,508.8 L470.3,546.4" fill="none" stroke="#777" stroke-width="0.7" />
<line x1="470.30" y1="546.40" x2="486.70" y2="546.40" stroke="#666" stroke-width="0.8" />
<rect x="486.70" y="433.80" width="142.80" height="15.40" fill="#fff" stroke="#666" stroke-width="0.8" />
<path d="M486.7,433.8 L522.5,449.2 M522.5,433.8 L486.7,449.2" fill="none" stroke="#777" stroke-width="0.7" />
<line x1="522.50" y1="433.80" x2="522.50" y2="449.20" stroke="#666" stroke-width="0.8" />
<path d="M522.5,433.8 L558.2,449.2 M558.2,433.8 L522.5,449.2" fill="none" stroke="#777" stroke-width="0.7" />
<line x1="558.20" y1="433.80" x2="558.20" y2="449.20" stroke="#666" stroke-width="0.8" />
<path d="M558.2,433.8 L594,449.2 M594,433.8 L558.2,449.2" fill="none" stroke="#777" stroke-width="0.7" />
<line x1="594.00" y1="433.80" x2="594.00" y2="449.20" stroke="#666" stroke-width="0.8" />
<path d="M594,433.8 L629.5,449.2 M629.5,433.8 L594,449.2" fill="none" stroke="#777" stroke-width="0.7" />
<line x1="629.50" y1="433.80" x2="629.50" y2="449.20" stroke="#666" stroke-width="0.8" />
<path d="M589.2,483.9 Q606,483 617.5,499.2 Q609,510 595.2,514 L585.7,495.7 Z" fill="#fff" stroke="#1a1a1a" stroke-width="0.8" />
<path d="M548,496.3 L591.6,495.7 L595.2,523.4 Q570,527 544.4,523.4 Z" fill="#fff" stroke="#1a1a1a" stroke-width="0.9" />
<path d="M558,496.6 L558.3,519.3 Q570,521 582.2,519.3 L581.5,496.2" fill="none" stroke="#1a1a1a" stroke-width="0.8" />
<path d="M545.5,507 L545.5,487.2 L556.5,487.2 L556.5,496.5" fill="none" stroke="#1a1a1a" stroke-width="0.8" />
<line x1="545.50" y1="487.20" x2="556.50" y2="487.20" stroke="#1a1a1a" stroke-width="1.6" />
<g transform="translate(605.7,519) rotate(-14)">
<rect x="-8.00" y="-10.00" width="16.00" height="20.00" fill="#fff" stroke="#1a1a1a" stroke-width="1.1" />
<line x1="-8.00" y1="3.00" x2="8.00" y2="3.00" stroke="#1a1a1a" stroke-width="0.7" />
<line x1="-8.00" y1="6.00" x2="8.00" y2="6.00" stroke="#1a1a1a" stroke-width="0.7" />
</g>
<g transform="translate(571,477.7)">
<rect x="-7.50" y="-9.00" width="15.00" height="18.00" fill="#fff" stroke="#1a1a1a" stroke-width="1.2" />
<path d="M-7.5,-5 Q0,-7 7.5,-5" fill="none" stroke="#1a1a1a" stroke-width="0.7" />
<path d="M-7.5,1 Q0,-1 7.5,1" fill="none" stroke="#1a1a1a" stroke-width="0.7" />
<line x1="-11.00" y1="0.50" x2="-7.50" y2="0.50" stroke="#1a1a1a" stroke-width="1.4" />
<line x1="7.50" y1="0.50" x2="11.00" y2="0.50" stroke="#1a1a1a" stroke-width="1.4" />
<line x1="-6.00" y1="-9.00" x2="-7.00" y2="-11.50" stroke="#1a1a1a" stroke-width="1.4" />
<line x1="6.00" y1="-9.00" x2="7.00" y2="-11.50" stroke="#1a1a1a" stroke-width="1.4" />
<line x1="-6.00" y1="9.00" x2="-7.00" y2="11.50" stroke="#1a1a1a" stroke-width="1.4" />
<line x1="6.00" y1="9.00" x2="7.00" y2="11.50" stroke="#1a1a1a" stroke-width="1.4" />
</g>
<g transform="translate(474.02,599.00) scale(1.007,1.002)">
<rect x="0.00" y="0.00" width="37.30" height="62.90" fill="#fff" stroke="#1a1a1a" stroke-width="1" />
<line x1="15.00" y1="0.00" x2="15.00" y2="62.90" stroke="#1a1a1a" stroke-width="1" />
<line x1="15.00" y1="8.10" x2="37.30" y2="8.10" stroke="#1a1a1a" stroke-width="1" />
<line x1="15.00" y1="55.00" x2="37.30" y2="55.00" stroke="#1a1a1a" stroke-width="1" />
<line x1="15.00" y1="31.20" x2="37.30" y2="31.20" stroke="#1a1a1a" stroke-width="1" />
<path d="M-3.00,8.96 L0.25,9.49 L3.50,9.43 L6.75,9.28 L10.00,9.02 L13.25,9.59 L16.81,9.30 L16.51,13.02 L16.51,16.73 L16.24,20.45 L16.00,24.17 L16.37,27.88 L16.50,31.69 L13.25,31.17 L10.00,31.89 L6.75,31.33 L3.50,31.33 L0.25,31.14 L-2.50,31.60 L-2.76,27.88 L-2.62,24.17 L-2.88,20.45 L-3.47,16.73 L-3.17,13.02Z" fill="#fff" stroke="#1a1a1a" stroke-width="0.9" />
<path d="M-3.00,33.06 L0.25,32.24 L3.50,32.12 L6.75,33.10 L10.00,32.28 L13.25,32.22 L16.65,32.60 L16.35,36.08 L16.89,39.57 L16.23,43.05 L16.96,46.53 L16.32,50.02 L16.50,53.60 L13.25,53.93 L10.00,53.69 L6.75,53.92 L3.50,53.71 L0.25,53.05 L-2.62,53.50 L-2.91,50.02 L-3.19,46.53 L-3.31,43.05 L-2.65,39.57 L-2.92,36.08Z" fill="#fff" stroke="#1a1a1a" stroke-width="0.9" />
<path d="M1.50,2.05 L2.75,2.07 L4.00,2.04 L5.25,1.55 L6.50,1.86 L7.75,1.75 L9.02,1.80 L8.78,2.92 L8.82,4.03 L8.97,5.15 L8.83,6.27 L8.97,7.38 L9.00,8.21 L7.75,8.25 L6.50,8.63 L5.25,8.45 L4.00,8.51 L2.75,8.64 L1.42,8.50 L1.23,7.38 L1.67,6.27 L1.55,5.15 L1.59,4.03 L1.57,2.92Z" fill="#fff" stroke="#1a1a1a" stroke-width="0.8" />
<path d="M1.50,54.63 L2.75,54.70 L4.00,54.31 L5.25,54.80 L6.50,54.32 L7.75,54.60 L8.76,54.50 L9.15,55.62 L8.79,56.73 L9.12,57.85 L9.13,58.97 L9.16,60.08 L9.00,61.16 L7.75,61.42 L6.50,61.49 L5.25,60.97 L4.00,61.21 L2.75,61.47 L1.64,61.20 L1.47,60.08 L1.38,58.97 L1.77,57.85 L1.25,56.73 L1.66,55.62Z" fill="#fff" stroke="#1a1a1a" stroke-width="0.8" />
</g>
<g transform="translate(625.59,599.00) scale(-1.002,1.002)">
<rect x="0.00" y="0.00" width="37.30" height="62.90" fill="#fff" stroke="#1a1a1a" stroke-width="1" />
<line x1="15.00" y1="0.00" x2="15.00" y2="62.90" stroke="#1a1a1a" stroke-width="1" />
<line x1="15.00" y1="8.10" x2="37.30" y2="8.10" stroke="#1a1a1a" stroke-width="1" />
<line x1="15.00" y1="55.00" x2="37.30" y2="55.00" stroke="#1a1a1a" stroke-width="1" />
<line x1="15.00" y1="31.20" x2="37.30" y2="31.20" stroke="#1a1a1a" stroke-width="1" />
<path d="M-3.00,9.18 L0.25,9.73 L3.50,9.64 L6.75,9.01 L10.00,9.67 L13.25,9.44 L16.04,9.30 L16.95,13.02 L16.26,16.73 L16.31,20.45 L16.42,24.17 L16.59,27.88 L16.50,31.22 L13.25,31.79 L10.00,31.93 L6.75,31.61 L3.50,31.89 L0.25,31.72 L-2.68,31.60 L-3.32,27.88 L-3.14,24.17 L-3.03,20.45 L-3.40,16.73 L-2.53,13.02Z" fill="#fff" stroke="#1a1a1a" stroke-width="0.9" />
<path d="M-3.00,32.85 L0.25,32.30 L3.50,32.31 L6.75,32.70 L10.00,32.16 L13.25,32.88 L16.76,32.60 L16.04,36.08 L16.68,39.57 L16.50,43.05 L16.64,46.53 L16.95,50.02 L16.50,53.99 L13.25,53.41 L10.00,53.84 L6.75,53.79 L3.50,53.97 L0.25,53.03 L-2.56,53.50 L-3.28,50.02 L-3.37,46.53 L-2.90,43.05 L-2.66,39.57 L-2.54,36.08Z" fill="#fff" stroke="#1a1a1a" stroke-width="0.9" />
<path d="M1.50,1.89 L2.75,1.92 L4.00,2.07 L5.25,1.62 L6.50,1.54 L7.75,1.99 L8.90,1.80 L8.92,2.92 L9.19,4.03 L8.81,5.15 L9.25,6.27 L8.99,7.38 L9.00,8.24 L7.75,8.75 L6.50,8.54 L5.25,8.25 L4.00,8.70 L2.75,8.66 L1.64,8.50 L1.59,7.38 L1.80,6.27 L1.21,5.15 L1.78,4.03 L1.59,2.92Z" fill="#fff" stroke="#1a1a1a" stroke-width="0.8" />
<path d="M1.50,54.27 L2.75,54.28 L4.00,54.56 L5.25,54.31 L6.50,54.28 L7.75,54.48 L8.95,54.50 L8.83,55.62 L8.94,56.73 L9.21,57.85 L8.78,58.97 L8.81,60.08 L9.00,60.92 L7.75,61.04 L6.50,60.96 L5.25,61.49 L4.00,61.09 L2.75,61.49 L1.28,61.20 L1.74,60.08 L1.50,58.97 L1.61,57.85 L1.60,56.73 L1.36,55.62Z" fill="#fff" stroke="#1a1a1a" stroke-width="0.8" />
</g>
<g transform="translate(518.40,703.67) rotate(-90) scale(0.978,1.002)">
<rect x="0.00" y="0.00" width="37.30" height="62.90" fill="#fff" stroke="#1a1a1a" stroke-width="1" />
<line x1="15.00" y1="0.00" x2="15.00" y2="62.90" stroke="#1a1a1a" stroke-width="1" />
<line x1="15.00" y1="8.10" x2="37.30" y2="8.10" stroke="#1a1a1a" stroke-width="1" />
<line x1="15.00" y1="55.00" x2="37.30" y2="55.00" stroke="#1a1a1a" stroke-width="1" />
<line x1="15.00" y1="31.20" x2="37.30" y2="31.20" stroke="#1a1a1a" stroke-width="1" />
<path d="M-3.00,9.35 L0.25,9.15 L3.50,9.64 L6.75,9.09 L10.00,9.31 L13.25,9.14 L16.42,9.30 L16.97,13.02 L16.10,16.73 L16.44,20.45 L16.22,24.17 L16.35,27.88 L16.50,32.10 L13.25,31.43 L10.00,31.71 L6.75,31.52 L3.50,31.83 L0.25,31.55 L-3.33,31.60 L-3.07,27.88 L-3.09,24.17 L-2.71,20.45 L-2.94,16.73 L-3.30,13.02Z" fill="#fff" stroke="#1a1a1a" stroke-width="0.9" />
<path d="M-3.00,32.64 L0.25,32.39 L3.50,32.13 L6.75,32.75 L10.00,32.31 L13.25,32.36 L16.40,32.60 L16.64,36.08 L16.99,39.57 L16.46,43.05 L16.99,46.53 L16.99,50.02 L16.50,53.24 L13.25,53.07 L10.00,53.16 L6.75,53.84 L3.50,53.60 L0.25,53.92 L-2.53,53.50 L-2.85,50.02 L-2.96,46.53 L-3.43,43.05 L-3.48,39.57 L-2.69,36.08Z" fill="#fff" stroke="#1a1a1a" stroke-width="0.9" />
<path d="M1.50,1.51 L2.75,1.57 L4.00,1.74 L5.25,1.91 L6.50,1.58 L7.75,1.57 L8.84,1.80 L9.15,2.92 L8.79,4.03 L9.14,5.15 L9.10,6.27 L8.78,7.38 L9.00,8.52 L7.75,8.47 L6.50,8.45 L5.25,8.80 L4.00,8.26 L2.75,8.21 L1.76,8.50 L1.44,7.38 L1.32,6.27 L1.40,5.15 L1.42,4.03 L1.77,2.92Z" fill="#fff" stroke="#1a1a1a" stroke-width="0.8" />
<path d="M1.50,54.25 L2.75,54.33 L4.00,54.38 L5.25,54.74 L6.50,54.50 L7.75,54.63 L8.76,54.50 L9.01,55.62 L9.21,56.73 L9.01,57.85 L9.27,58.97 L9.23,60.08 L9.00,61.12 L7.75,60.90 L6.50,61.35 L5.25,60.98 L4.00,60.91 L2.75,61.34 L1.71,61.20 L1.70,60.08 L1.77,58.97 L1.32,57.85 L1.25,56.73 L1.27,55.62Z" fill="#fff" stroke="#1a1a1a" stroke-width="0.8" />
</g>
<rect x="531.30" y="613.40" width="36.50" height="35.10" fill="#fff" stroke="#1a1a1a" stroke-width="0.8" />
<line x1="531.30" y1="616.00" x2="567.80" y2="616.00" stroke="#1a1a1a" stroke-width="0.6" />
<line x1="531.30" y1="646.00" x2="567.80" y2="646.00" stroke="#1a1a1a" stroke-width="0.6" />
<use href="#plant" x="476.76" y="670.51" width="35.34" height="33.63" preserveAspectRatio="none"/>
<use href="#plant" x="587.26" y="670.51" width="35.34" height="33.63" preserveAspectRatio="none"/>
<text x="536.00" y="572.60" font-size="13" text-anchor="start" fill="#1a1a1a" >22,95</text>
<line x1="536.00" y1="575.60" x2="567.50" y2="575.60" stroke="#333" stroke-width="1.2" />
<rect x="439.30" y="722.90" width="54.00" height="28.30" fill="#fff" stroke="#555" stroke-width="0.9" />
<path d="M443,722.9 L443,747.4 L489.6,747.4 L489.6,722.9" fill="none" stroke="#555" stroke-width="0.7" />
<line x1="493.30" y1="741.60" x2="629.50" y2="741.60" stroke="#aaa" stroke-width="0.8" />
<line x1="493.30" y1="744.00" x2="629.50" y2="744.00" stroke="#aaa" stroke-width="0.8" />
<use href="#splant" x="594.10" y="726.10" width="13.80" height="13.80"/>
<use href="#splant" x="612.10" y="726.10" width="13.80" height="13.80"/>
<text x="379.80" y="755.70" font-size="13" text-anchor="start" fill="#1a1a1a" >камин</text>
<path d="M378.2,757.6 L419,757.6 L439.7,739.2" fill="none" stroke="#1a1a1a" stroke-width="0.9" />
<g transform="translate(389.40,796.30) rotate(227) scale(1.08)">
<path d="M-15.00,-19.00 H15.00 Q22.00,-19.00 22.00,-12.00 V13.00 Q22.00,20.00 15.00,20.00 H-15.00 Q-22.00,20.00 -22.00,13.00 V-12.00 Q-22.00,-19.00 -15.00,-19.00Z" fill="#fff" stroke="#1a1a1a" stroke-width="0.9" />
<path d="M-17.00,-19.00 H-16.00 Q-11.00,-19.00 -11.00,-14.00 V9.00 Q-11.00,14.00 -16.00,14.00 H-17.00 Q-22.00,14.00 -22.00,9.00 V-14.00 Q-22.00,-19.00 -17.00,-19.00Z" fill="#fff" stroke="#1a1a1a" stroke-width="0.9" />
<path d="M16.00,-19.00 H17.00 Q22.00,-19.00 22.00,-14.00 V9.00 Q22.00,14.00 17.00,14.00 H16.00 Q11.00,14.00 11.00,9.00 V-14.00 Q11.00,-19.00 16.00,-19.00Z" fill="#fff" stroke="#1a1a1a" stroke-width="0.9" />
<path d="M-11,-15 L11,-15 L11,-10 L-11,-10 Z" fill="#fff" stroke="#1a1a1a" stroke-width="0.9" />
<line x1="-11.00" y1="-17.50" x2="11.00" y2="-17.50" stroke="#1a1a1a" stroke-width="0.6" />
<line x1="-11.00" y1="-16.30" x2="11.00" y2="-16.30" stroke="#1a1a1a" stroke-width="0.6" />
</g>
<g transform="translate(461.30,823.30) rotate(180) scale(1.12)">
<path d="M-15.00,-19.00 H15.00 Q22.00,-19.00 22.00,-12.00 V13.00 Q22.00,20.00 15.00,20.00 H-15.00 Q-22.00,20.00 -22.00,13.00 V-12.00 Q-22.00,-19.00 -15.00,-19.00Z" fill="#fff" stroke="#1a1a1a" stroke-width="0.9" />
<path d="M-17.00,-19.00 H-16.00 Q-11.00,-19.00 -11.00,-14.00 V9.00 Q-11.00,14.00 -16.00,14.00 H-17.00 Q-22.00,14.00 -22.00,9.00 V-14.00 Q-22.00,-19.00 -17.00,-19.00Z" fill="#fff" stroke="#1a1a1a" stroke-width="0.9" />
<path d="M16.00,-19.00 H17.00 Q22.00,-19.00 22.00,-14.00 V9.00 Q22.00,14.00 17.00,14.00 H16.00 Q11.00,14.00 11.00,9.00 V-14.00 Q11.00,-19.00 16.00,-19.00Z" fill="#fff" stroke="#1a1a1a" stroke-width="0.9" />
<path d="M-11,-15 L11,-15 L11,-10 L-11,-10 Z" fill="#fff" stroke="#1a1a1a" stroke-width="0.9" />
<line x1="-11.00" y1="-17.50" x2="11.00" y2="-17.50" stroke="#1a1a1a" stroke-width="0.6" />
<line x1="-11.00" y1="-16.30" x2="11.00" y2="-16.30" stroke="#1a1a1a" stroke-width="0.6" />
</g>
<g transform="translate(529.80,788.00) rotate(116) scale(1.08)">
<path d="M-15.00,-19.00 H15.00 Q22.00,-19.00 22.00,-12.00 V13.00 Q22.00,20.00 15.00,20.00 H-15.00 Q-22.00,20.00 -22.00,13.00 V-12.00 Q-22.00,-19.00 -15.00,-19.00Z" fill="#fff" stroke="#1a1a1a" stroke-width="0.9" />
<path d="M-17.00,-19.00 H-16.00 Q-11.00,-19.00 -11.00,-14.00 V9.00 Q-11.00,14.00 -16.00,14.00 H-17.00 Q-22.00,14.00 -22.00,9.00 V-14.00 Q-22.00,-19.00 -17.00,-19.00Z" fill="#fff" stroke="#1a1a1a" stroke-width="0.9" />
<path d="M16.00,-19.00 H17.00 Q22.00,-19.00 22.00,-14.00 V9.00 Q22.00,14.00 17.00,14.00 H16.00 Q11.00,14.00 11.00,9.00 V-14.00 Q11.00,-19.00 16.00,-19.00Z" fill="#fff" stroke="#1a1a1a" stroke-width="0.9" />
<path d="M-11,-15 L11,-15 L11,-10 L-11,-10 Z" fill="#fff" stroke="#1a1a1a" stroke-width="0.9" />
<line x1="-11.00" y1="-17.50" x2="11.00" y2="-17.50" stroke="#1a1a1a" stroke-width="0.6" />
<line x1="-11.00" y1="-16.30" x2="11.00" y2="-16.30" stroke="#1a1a1a" stroke-width="0.6" />
</g>
<path d="M413.50,867.50 H554.60 Q558.60,867.50 558.60,871.50 V940.50 Q558.60,944.50 554.60,944.50 H413.50 Q409.50,944.50 409.50,940.50 V871.50 Q409.50,867.50 413.50,867.50Z" fill="#fff" stroke="#1a1a1a" stroke-width="1" />
<path d="M416.00,871.00 H552.10 Q555.10,871.00 555.10,874.00 V938.00 Q555.10,941.00 552.10,941.00 H416.00 Q413.00,941.00 413.00,938.00 V874.00 Q413.00,871.00 416.00,871.00Z" fill="none" stroke="#1a1a1a" stroke-width="0.7" />
<circle cx="413.5" cy="871.5" r="3.6" fill="#fff" stroke="#1a1a1a" stroke-width="0.8"/>
<circle cx="413.5" cy="871.5" r="2" fill="none" stroke="#1a1a1a" stroke-width="0.6"/>
<circle cx="484" cy="869.5" r="3.6" fill="#fff" stroke="#1a1a1a" stroke-width="0.8"/>
<circle cx="484" cy="869.5" r="2" fill="none" stroke="#1a1a1a" stroke-width="0.6"/>
<circle cx="554.6" cy="871.5" r="3.6" fill="#fff" stroke="#1a1a1a" stroke-width="0.8"/>
<circle cx="554.6" cy="871.5" r="2" fill="none" stroke="#1a1a1a" stroke-width="0.6"/>
<circle cx="413.5" cy="940.5" r="3.6" fill="#fff" stroke="#1a1a1a" stroke-width="0.8"/>
<circle cx="413.5" cy="940.5" r="2" fill="none" stroke="#1a1a1a" stroke-width="0.6"/>
<circle cx="484" cy="942.5" r="3.6" fill="#fff" stroke="#1a1a1a" stroke-width="0.8"/>
<circle cx="484" cy="942.5" r="2" fill="none" stroke="#1a1a1a" stroke-width="0.6"/>
<circle cx="554.6" cy="940.5" r="3.6" fill="#fff" stroke="#1a1a1a" stroke-width="0.8"/>
<circle cx="554.6" cy="940.5" r="2" fill="none" stroke="#1a1a1a" stroke-width="0.6"/>
<text x="465.80" y="910.00" font-size="13.7" text-anchor="start" fill="#1a1a1a" >11 фут</text>
<text x="564.60" y="829.40" font-size="13" text-anchor="start" fill="#1a1a1a" >44,05</text>
<line x1="564.80" y1="832.40" x2="596.00" y2="832.40" stroke="#333" stroke-width="1.2" />
<use href="#plant" x="339.94" y="727.29" width="29.69" height="28.25" preserveAspectRatio="none"/>
<use href="#plant" x="340.34" y="852.29" width="29.69" height="28.25" preserveAspectRatio="none"/>
<use href="#plant" x="601.44" y="853.99" width="29.69" height="28.25" preserveAspectRatio="none"/>
<use href="#plant" x="342.34" y="982.49" width="29.69" height="28.25" preserveAspectRatio="none"/>
<use href="#plant" x="468.24" y="984.49" width="29.69" height="28.25" preserveAspectRatio="none"/>
<use href="#plant" x="598.34" y="981.99" width="29.69" height="28.25" preserveAspectRatio="none"/>
<rect x="24.90" y="609.40" width="27.50" height="100.90" fill="#fff" stroke="#666" stroke-width="0.8" />
<line x1="24.90" y1="609.40" x2="52.40" y2="609.40" stroke="#222" stroke-width="2" />
<path d="M28.5,617.5 Q38.6,611.5 48.5,617.5 Z" fill="#f4f4f4" stroke="#a0a0a0" stroke-width="0.9"/>
<path d="M29,618.7 L48,618.7" fill="none" stroke="#b8b8b8" stroke-width="0.7"/>
<line x1="38.60" y1="611.00" x2="38.60" y2="614.50" stroke="#a0a0a0" stroke-width="0.7" />
<path d="M28.5,625.6 Q38.6,619.6 48.5,625.6 Z" fill="#f4f4f4" stroke="#a0a0a0" stroke-width="0.9"/>
<path d="M29,626.8 L48,626.8" fill="none" stroke="#b8b8b8" stroke-width="0.7"/>
<line x1="38.60" y1="619.10" x2="38.60" y2="622.60" stroke="#a0a0a0" stroke-width="0.7" />
<path d="M28.5,633.7 Q38.6,627.7 48.5,633.7 Z" fill="#f4f4f4" stroke="#a0a0a0" stroke-width="0.9"/>
<path d="M29,634.9 L48,634.9" fill="none" stroke="#b8b8b8" stroke-width="0.7"/>
<line x1="38.60" y1="627.20" x2="38.60" y2="630.70" stroke="#a0a0a0" stroke-width="0.7" />
<path d="M28.5,641.8 Q38.6,635.8 48.5,641.8 Z" fill="#f4f4f4" stroke="#a0a0a0" stroke-width="0.9"/>
<path d="M29,643.0 L48,643.0" fill="none" stroke="#b8b8b8" stroke-width="0.7"/>
<line x1="38.60" y1="635.30" x2="38.60" y2="638.80" stroke="#a0a0a0" stroke-width="0.7" />
<path d="M28.5,649.9 Q38.6,643.9 48.5,649.9 Z" fill="#f4f4f4" stroke="#a0a0a0" stroke-width="0.9"/>
<path d="M29,651.1 L48,651.1" fill="none" stroke="#b8b8b8" stroke-width="0.7"/>
<line x1="38.60" y1="643.40" x2="38.60" y2="646.90" stroke="#a0a0a0" stroke-width="0.7" />
<path d="M28.5,658.0 Q38.6,652.0 48.5,658.0 Z" fill="#f4f4f4" stroke="#a0a0a0" stroke-width="0.9"/>
<path d="M29,659.2 L48,659.2" fill="none" stroke="#b8b8b8" stroke-width="0.7"/>
<line x1="38.60" y1="651.50" x2="38.60" y2="655.00" stroke="#a0a0a0" stroke-width="0.7" />
<path d="M28.5,666.1 Q38.6,660.1 48.5,666.1 Z" fill="#f4f4f4" stroke="#a0a0a0" stroke-width="0.9"/>
<path d="M29,667.3 L48,667.3" fill="none" stroke="#b8b8b8" stroke-width="0.7"/>
<line x1="38.60" y1="659.60" x2="38.60" y2="663.10" stroke="#a0a0a0" stroke-width="0.7" />
<path d="M28.5,674.2 Q38.6,668.2 48.5,674.2 Z" fill="#f4f4f4" stroke="#a0a0a0" stroke-width="0.9"/>
<path d="M29,675.4 L48,675.4" fill="none" stroke="#b8b8b8" stroke-width="0.7"/>
<line x1="38.60" y1="667.70" x2="38.60" y2="671.20" stroke="#a0a0a0" stroke-width="0.7" />
<path d="M28.5,682.3 Q38.6,676.3 48.5,682.3 Z" fill="#f4f4f4" stroke="#a0a0a0" stroke-width="0.9"/>
<path d="M29,683.5 L48,683.5" fill="none" stroke="#b8b8b8" stroke-width="0.7"/>
<line x1="38.60" y1="675.80" x2="38.60" y2="679.30" stroke="#a0a0a0" stroke-width="0.7" />
<path d="M28.5,690.4 Q38.6,684.4 48.5,690.4 Z" fill="#f4f4f4" stroke="#a0a0a0" stroke-width="0.9"/>
<path d="M29,691.6 L48,691.6" fill="none" stroke="#b8b8b8" stroke-width="0.7"/>
<line x1="38.60" y1="683.90" x2="38.60" y2="687.40" stroke="#a0a0a0" stroke-width="0.7" />
<path d="M28.5,698.5 Q38.6,692.5 48.5,698.5 Z" fill="#f4f4f4" stroke="#a0a0a0" stroke-width="0.9"/>
<path d="M29,699.7 L48,699.7" fill="none" stroke="#b8b8b8" stroke-width="0.7"/>
<line x1="38.60" y1="692.00" x2="38.60" y2="695.50" stroke="#a0a0a0" stroke-width="0.7" />
<path d="M28.5,706.6 Q38.6,700.6 48.5,706.6 Z" fill="#f4f4f4" stroke="#a0a0a0" stroke-width="0.9"/>
<path d="M29,707.8 L48,707.8" fill="none" stroke="#b8b8b8" stroke-width="0.7"/>
<line x1="38.60" y1="700.10" x2="38.60" y2="703.60" stroke="#a0a0a0" stroke-width="0.7" />
<path d="M24.9,608 L49.6,608 L49.6,556 L100.7,556 L100.7,526.8" fill="none" stroke="#777" stroke-width="0.9" />
<path d="M46.5,540.6 L33.6,571.3" fill="none" stroke="#222" stroke-width="1.4" />
<path d="M37,549 A6,6 0 0 0 37.5,561" fill="none" stroke="#333" stroke-width="0.7"/><circle cx="37.7" cy="555.1" r="1.5" fill="#000"/>
<path d="M78.4,529.4 L97.8,539.4" fill="none" stroke="#222" stroke-width="1.4" />
<path d="M85,531 A5.5,5.5 0 0 1 93,536" fill="none" stroke="#333" stroke-width="0.7"/><circle cx="88.4" cy="533.6" r="1.5" fill="#000"/>
<g transform="translate(84.4,546) rotate(4)"><rect x="-8" y="-2.9" width="16" height="5.8" fill="#fff" stroke="#444" stroke-width="0.8"/></g>
<use href="#splant" x="32.78" y="574.98" width="13.44" height="13.44"/>
<use href="#splant" x="32.68" y="591.88" width="13.44" height="13.44"/>
<g transform="translate(83.1,569)">
<rect x="-7.50" y="-8.50" width="15.00" height="17.00" fill="#fff" stroke="#1a1a1a" stroke-width="1.1" />
<path d="M-7.5,-1 Q0,-3 7.5,-1" fill="none" stroke="#1a1a1a" stroke-width="0.6" />
<path d="M-6,6 Q0,4 6,6" fill="none" stroke="#1a1a1a" stroke-width="0.6" />
<line x1="-11.00" y1="-0.70" x2="-7.50" y2="-0.70" stroke="#1a1a1a" stroke-width="1.3" />
<line x1="7.50" y1="-0.70" x2="11.00" y2="-0.70" stroke="#1a1a1a" stroke-width="1.3" />
<line x1="-6.00" y1="-8.50" x2="-7.00" y2="-11.00" stroke="#1a1a1a" stroke-width="1.3" />
<line x1="6.00" y1="-8.50" x2="7.00" y2="-11.00" stroke="#1a1a1a" stroke-width="1.3" />
</g>
<rect x="89.80" y="607.30" width="95.00" height="80.70" fill="#fff" stroke="#777" stroke-width="0.9" />
<line x1="91.30" y1="608.00" x2="91.30" y2="687.30" stroke="#999" stroke-width="0.6" />
<line x1="90.50" y1="686.60" x2="184.00" y2="686.60" stroke="#999" stroke-width="0.6" />
<path d="M95.00,610.83 L107.00,610.62 L119.00,610.53 L131.00,611.58 L143.00,611.11 L155.00,611.27 L167.07,611.00 L166.84,623.50 L167.32,636.00 L167.11,648.50 L167.39,661.00 L167.23,673.50 L167.00,686.48 L155.00,685.92 L143.00,685.52 L131.00,685.51 L119.00,686.31 L107.00,685.53 L95.22,686.00 L95.17,673.50 L94.38,661.00 L95.40,648.50 L94.35,636.00 L95.51,623.50Z" fill="#fff" stroke="#1a1a1a" stroke-width="0.9" />
<path d="M153,612 Q150,625 160,628 Q168,622 160,612" fill="#fff" stroke="#1a1a1a" stroke-width="0.8" />
<path d="M162.00,613.54 L165.33,614.20 L168.67,613.64 L172.00,613.96 L175.33,614.17 L178.67,614.29 L181.95,614.00 L182.00,619.50 L181.52,625.00 L181.93,630.50 L181.87,636.00 L182.35,641.50 L182.00,647.05 L178.67,647.26 L175.33,646.93 L172.00,646.68 L168.67,647.35 L165.33,647.32 L161.88,647.00 L161.60,641.50 L162.01,636.00 L162.00,630.50 L162.27,625.00 L162.10,619.50Z" fill="#fff" stroke="#1a1a1a" stroke-width="0.9" />
<path d="M164.00,649.77 L167.00,649.99 L170.00,649.58 L173.00,649.84 L176.00,649.57 L179.00,649.51 L181.78,650.00 L181.62,655.00 L181.81,660.00 L182.24,665.00 L181.54,670.00 L182.12,675.00 L182.00,679.64 L179.00,680.30 L176.00,680.24 L173.00,679.71 L170.00,680.35 L167.00,680.22 L163.57,680.00 L163.91,675.00 L164.20,670.00 L164.42,665.00 L163.67,660.00 L163.75,655.00Z" fill="#fff" stroke="#1a1a1a" stroke-width="0.9" />
<rect x="161.50" y="585.20" width="23.30" height="22.30" fill="#fff" stroke="#555" stroke-width="1.1" />
<rect x="163.00" y="586.70" width="20.30" height="19.30" fill="none" stroke="#999" stroke-width="0.5" />
<circle cx="173" cy="596.4" r="8.5" fill="none" stroke="#333" stroke-width="0.8"/>
<ellipse cx="173" cy="596.4" rx="2.5" ry="2" fill="none" stroke="#333" stroke-width="0.7"/>
<rect x="161.50" y="688.00" width="23.30" height="22.30" fill="#fff" stroke="#555" stroke-width="1.1" />
<rect x="163.00" y="689.50" width="20.30" height="19.30" fill="none" stroke="#999" stroke-width="0.5" />
<circle cx="173" cy="699.2" r="8.5" fill="none" stroke="#333" stroke-width="0.8"/>
<ellipse cx="173" cy="699.2" rx="2.5" ry="2" fill="none" stroke="#333" stroke-width="0.7"/>
<text x="106.70" y="580.50" font-size="13" text-anchor="start" fill="#1a1a1a" >14,90</text>
<line x1="106.70" y1="583.60" x2="137.00" y2="583.60" stroke="#333" stroke-width="1.2" />
<rect x="-0.4" y="-1.0" width="571.2" height="94.0" fill="#fff" fill-opacity="0.22" mask="url(#wm0)"/>
<text fill="#c9c9c9" style="mix-blend-mode:multiply" x="94.97 123.87 153.37 183.70 191.93 212.83 233.86 251.96 270.23 289.73 312.03 330.03 348.73 362.33 384.63 406.70 425.00 434.43 454.75" y="57.00" font-size="30.9" font-weight="bold">WWW.COTTAGEPLANS.RU</text>
<rect x="191.0" y="509.2" width="571.2" height="94.0" fill="#fff" fill-opacity="0.22" mask="url(#wm1)"/>
<text fill="#c9c9c9" style="mix-blend-mode:multiply" x="286.37 315.27 344.77 375.10 383.33 404.23 425.26 443.36 461.63 481.13 503.43 521.43 540.13 553.73 576.03 598.10 616.40 625.83 646.15" y="567.20" font-size="30.9" font-weight="bold">WWW.COTTAGEPLANS.RU</text>
<rect x="0.1" y="1017.5" width="571.2" height="94.0" fill="#fff" fill-opacity="0.22" mask="url(#wm2)"/>
<text fill="#c9c9c9" style="mix-blend-mode:multiply" x="95.47 124.37 153.87 184.20 192.43 213.33 234.36 252.46 270.73 290.23 312.53 330.53 349.23 362.83 385.13 407.20 425.50 434.93 455.25" y="1075.50" font-size="30.9" font-weight="bold">WWW.COTTAGEPLANS.RU</text>
</svg></body></html>
